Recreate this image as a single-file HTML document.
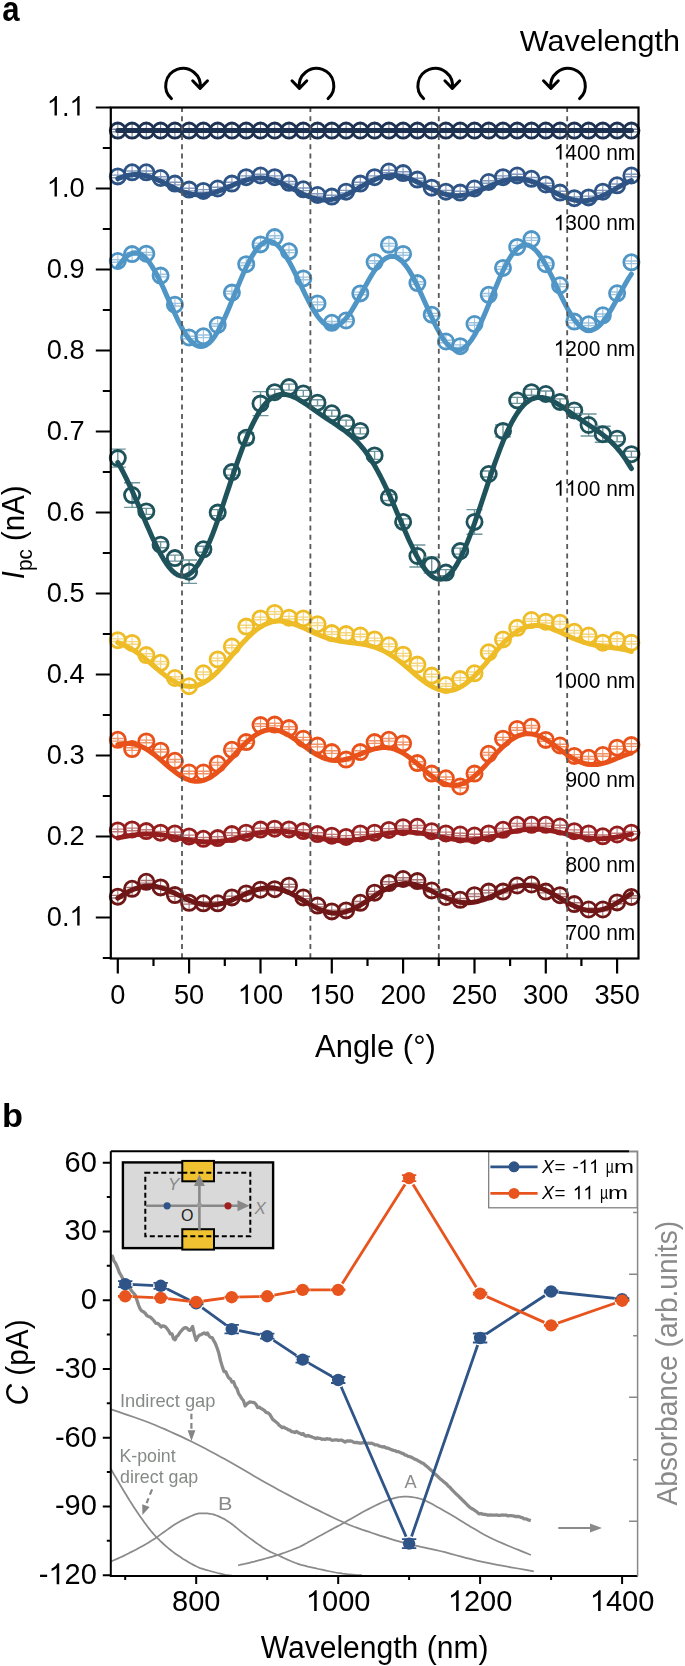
<!DOCTYPE html>
<html><head><meta charset="utf-8"><style>
html,body{margin:0;padding:0;background:#fff;}
body{width:685px;height:1666px;overflow:hidden;font-family:"Liberation Sans",sans-serif;}
svg{display:block;filter:blur(0.45px);}
</style></head><body>
<svg width="685" height="1666" viewBox="0 0 685 1666"><g><path d="M117.8 129.3V131.9M111.8 129.3H123.8M111.8 131.9H123.8" stroke="#71809a" stroke-width="1.4" fill="none"/><path d="M117.8 124.0V137.2" stroke="#71809a" stroke-width="1.1"/><circle cx="117.8" cy="130.6" r="7.6" fill="none" stroke="#1d3150" stroke-width="2.8"/><path d="M132.1 129.3V131.9M126.1 129.3H138.1M126.1 131.9H138.1" stroke="#71809a" stroke-width="1.4" fill="none"/><path d="M132.1 124.0V137.2" stroke="#71809a" stroke-width="1.1"/><circle cx="132.1" cy="130.6" r="7.6" fill="none" stroke="#1d3150" stroke-width="2.8"/><path d="M146.3 129.3V131.9M140.3 129.3H152.3M140.3 131.9H152.3" stroke="#71809a" stroke-width="1.4" fill="none"/><path d="M146.3 124.0V137.2" stroke="#71809a" stroke-width="1.1"/><circle cx="146.3" cy="130.6" r="7.6" fill="none" stroke="#1d3150" stroke-width="2.8"/><path d="M160.6 129.3V131.9M154.6 129.3H166.6M154.6 131.9H166.6" stroke="#71809a" stroke-width="1.4" fill="none"/><path d="M160.6 124.0V137.2" stroke="#71809a" stroke-width="1.1"/><circle cx="160.6" cy="130.6" r="7.6" fill="none" stroke="#1d3150" stroke-width="2.8"/><path d="M174.9 129.3V131.9M168.9 129.3H180.9M168.9 131.9H180.9" stroke="#71809a" stroke-width="1.4" fill="none"/><path d="M174.9 124.0V137.2" stroke="#71809a" stroke-width="1.1"/><circle cx="174.9" cy="130.6" r="7.6" fill="none" stroke="#1d3150" stroke-width="2.8"/><path d="M189.1 129.3V131.9M183.1 129.3H195.1M183.1 131.9H195.1" stroke="#71809a" stroke-width="1.4" fill="none"/><path d="M189.1 124.0V137.2" stroke="#71809a" stroke-width="1.1"/><circle cx="189.1" cy="130.6" r="7.6" fill="none" stroke="#1d3150" stroke-width="2.8"/><path d="M203.4 129.3V131.9M197.4 129.3H209.4M197.4 131.9H209.4" stroke="#71809a" stroke-width="1.4" fill="none"/><path d="M203.4 124.0V137.2" stroke="#71809a" stroke-width="1.1"/><circle cx="203.4" cy="130.6" r="7.6" fill="none" stroke="#1d3150" stroke-width="2.8"/><path d="M217.7 129.3V131.9M211.7 129.3H223.7M211.7 131.9H223.7" stroke="#71809a" stroke-width="1.4" fill="none"/><path d="M217.7 124.0V137.2" stroke="#71809a" stroke-width="1.1"/><circle cx="217.7" cy="130.6" r="7.6" fill="none" stroke="#1d3150" stroke-width="2.8"/><path d="M231.9 129.3V131.9M225.9 129.3H237.9M225.9 131.9H237.9" stroke="#71809a" stroke-width="1.4" fill="none"/><path d="M231.9 124.0V137.2" stroke="#71809a" stroke-width="1.1"/><circle cx="231.9" cy="130.6" r="7.6" fill="none" stroke="#1d3150" stroke-width="2.8"/><path d="M246.2 129.3V131.9M240.2 129.3H252.2M240.2 131.9H252.2" stroke="#71809a" stroke-width="1.4" fill="none"/><path d="M246.2 124.0V137.2" stroke="#71809a" stroke-width="1.1"/><circle cx="246.2" cy="130.6" r="7.6" fill="none" stroke="#1d3150" stroke-width="2.8"/><path d="M260.5 129.3V131.9M254.5 129.3H266.5M254.5 131.9H266.5" stroke="#71809a" stroke-width="1.4" fill="none"/><path d="M260.5 124.0V137.2" stroke="#71809a" stroke-width="1.1"/><circle cx="260.5" cy="130.6" r="7.6" fill="none" stroke="#1d3150" stroke-width="2.8"/><path d="M274.7 129.3V131.9M268.7 129.3H280.7M268.7 131.9H280.7" stroke="#71809a" stroke-width="1.4" fill="none"/><path d="M274.7 124.0V137.2" stroke="#71809a" stroke-width="1.1"/><circle cx="274.7" cy="130.6" r="7.6" fill="none" stroke="#1d3150" stroke-width="2.8"/><path d="M289.0 129.3V131.9M283.0 129.3H295.0M283.0 131.9H295.0" stroke="#71809a" stroke-width="1.4" fill="none"/><path d="M289.0 124.0V137.2" stroke="#71809a" stroke-width="1.1"/><circle cx="289.0" cy="130.6" r="7.6" fill="none" stroke="#1d3150" stroke-width="2.8"/><path d="M303.3 129.3V131.9M297.3 129.3H309.3M297.3 131.9H309.3" stroke="#71809a" stroke-width="1.4" fill="none"/><path d="M303.3 124.0V137.2" stroke="#71809a" stroke-width="1.1"/><circle cx="303.3" cy="130.6" r="7.6" fill="none" stroke="#1d3150" stroke-width="2.8"/><path d="M317.5 129.3V131.9M311.5 129.3H323.5M311.5 131.9H323.5" stroke="#71809a" stroke-width="1.4" fill="none"/><path d="M317.5 124.0V137.2" stroke="#71809a" stroke-width="1.1"/><circle cx="317.5" cy="130.6" r="7.6" fill="none" stroke="#1d3150" stroke-width="2.8"/><path d="M331.8 129.3V131.9M325.8 129.3H337.8M325.8 131.9H337.8" stroke="#71809a" stroke-width="1.4" fill="none"/><path d="M331.8 124.0V137.2" stroke="#71809a" stroke-width="1.1"/><circle cx="331.8" cy="130.6" r="7.6" fill="none" stroke="#1d3150" stroke-width="2.8"/><path d="M346.1 129.3V131.9M340.1 129.3H352.1M340.1 131.9H352.1" stroke="#71809a" stroke-width="1.4" fill="none"/><path d="M346.1 124.0V137.2" stroke="#71809a" stroke-width="1.1"/><circle cx="346.1" cy="130.6" r="7.6" fill="none" stroke="#1d3150" stroke-width="2.8"/><path d="M360.3 129.3V131.9M354.3 129.3H366.3M354.3 131.9H366.3" stroke="#71809a" stroke-width="1.4" fill="none"/><path d="M360.3 124.0V137.2" stroke="#71809a" stroke-width="1.1"/><circle cx="360.3" cy="130.6" r="7.6" fill="none" stroke="#1d3150" stroke-width="2.8"/><path d="M374.6 129.3V131.9M368.6 129.3H380.6M368.6 131.9H380.6" stroke="#71809a" stroke-width="1.4" fill="none"/><path d="M374.6 124.0V137.2" stroke="#71809a" stroke-width="1.1"/><circle cx="374.6" cy="130.6" r="7.6" fill="none" stroke="#1d3150" stroke-width="2.8"/><path d="M388.9 129.3V131.9M382.9 129.3H394.9M382.9 131.9H394.9" stroke="#71809a" stroke-width="1.4" fill="none"/><path d="M388.9 124.0V137.2" stroke="#71809a" stroke-width="1.1"/><circle cx="388.9" cy="130.6" r="7.6" fill="none" stroke="#1d3150" stroke-width="2.8"/><path d="M403.1 129.3V131.9M397.1 129.3H409.1M397.1 131.9H409.1" stroke="#71809a" stroke-width="1.4" fill="none"/><path d="M403.1 124.0V137.2" stroke="#71809a" stroke-width="1.1"/><circle cx="403.1" cy="130.6" r="7.6" fill="none" stroke="#1d3150" stroke-width="2.8"/><path d="M417.4 129.3V131.9M411.4 129.3H423.4M411.4 131.9H423.4" stroke="#71809a" stroke-width="1.4" fill="none"/><path d="M417.4 124.0V137.2" stroke="#71809a" stroke-width="1.1"/><circle cx="417.4" cy="130.6" r="7.6" fill="none" stroke="#1d3150" stroke-width="2.8"/><path d="M431.7 129.3V131.9M425.7 129.3H437.7M425.7 131.9H437.7" stroke="#71809a" stroke-width="1.4" fill="none"/><path d="M431.7 124.0V137.2" stroke="#71809a" stroke-width="1.1"/><circle cx="431.7" cy="130.6" r="7.6" fill="none" stroke="#1d3150" stroke-width="2.8"/><path d="M445.9 129.3V131.9M439.9 129.3H451.9M439.9 131.9H451.9" stroke="#71809a" stroke-width="1.4" fill="none"/><path d="M445.9 124.0V137.2" stroke="#71809a" stroke-width="1.1"/><circle cx="445.9" cy="130.6" r="7.6" fill="none" stroke="#1d3150" stroke-width="2.8"/><path d="M460.2 129.3V131.9M454.2 129.3H466.2M454.2 131.9H466.2" stroke="#71809a" stroke-width="1.4" fill="none"/><path d="M460.2 124.0V137.2" stroke="#71809a" stroke-width="1.1"/><circle cx="460.2" cy="130.6" r="7.6" fill="none" stroke="#1d3150" stroke-width="2.8"/><path d="M474.5 129.3V131.9M468.5 129.3H480.5M468.5 131.9H480.5" stroke="#71809a" stroke-width="1.4" fill="none"/><path d="M474.5 124.0V137.2" stroke="#71809a" stroke-width="1.1"/><circle cx="474.5" cy="130.6" r="7.6" fill="none" stroke="#1d3150" stroke-width="2.8"/><path d="M488.7 129.3V131.9M482.7 129.3H494.7M482.7 131.9H494.7" stroke="#71809a" stroke-width="1.4" fill="none"/><path d="M488.7 124.0V137.2" stroke="#71809a" stroke-width="1.1"/><circle cx="488.7" cy="130.6" r="7.6" fill="none" stroke="#1d3150" stroke-width="2.8"/><path d="M503.0 129.3V131.9M497.0 129.3H509.0M497.0 131.9H509.0" stroke="#71809a" stroke-width="1.4" fill="none"/><path d="M503.0 124.0V137.2" stroke="#71809a" stroke-width="1.1"/><circle cx="503.0" cy="130.6" r="7.6" fill="none" stroke="#1d3150" stroke-width="2.8"/><path d="M517.2 129.3V131.9M511.2 129.3H523.2M511.2 131.9H523.2" stroke="#71809a" stroke-width="1.4" fill="none"/><path d="M517.2 124.0V137.2" stroke="#71809a" stroke-width="1.1"/><circle cx="517.2" cy="130.6" r="7.6" fill="none" stroke="#1d3150" stroke-width="2.8"/><path d="M531.5 129.3V131.9M525.5 129.3H537.5M525.5 131.9H537.5" stroke="#71809a" stroke-width="1.4" fill="none"/><path d="M531.5 124.0V137.2" stroke="#71809a" stroke-width="1.1"/><circle cx="531.5" cy="130.6" r="7.6" fill="none" stroke="#1d3150" stroke-width="2.8"/><path d="M545.8 129.3V131.9M539.8 129.3H551.8M539.8 131.9H551.8" stroke="#71809a" stroke-width="1.4" fill="none"/><path d="M545.8 124.0V137.2" stroke="#71809a" stroke-width="1.1"/><circle cx="545.8" cy="130.6" r="7.6" fill="none" stroke="#1d3150" stroke-width="2.8"/><path d="M560.0 129.3V131.9M554.0 129.3H566.0M554.0 131.9H566.0" stroke="#71809a" stroke-width="1.4" fill="none"/><path d="M560.0 124.0V137.2" stroke="#71809a" stroke-width="1.1"/><circle cx="560.0" cy="130.6" r="7.6" fill="none" stroke="#1d3150" stroke-width="2.8"/><path d="M574.3 129.3V131.9M568.3 129.3H580.3M568.3 131.9H580.3" stroke="#71809a" stroke-width="1.4" fill="none"/><path d="M574.3 124.0V137.2" stroke="#71809a" stroke-width="1.1"/><circle cx="574.3" cy="130.6" r="7.6" fill="none" stroke="#1d3150" stroke-width="2.8"/><path d="M588.6 129.3V131.9M582.6 129.3H594.6M582.6 131.9H594.6" stroke="#71809a" stroke-width="1.4" fill="none"/><path d="M588.6 124.0V137.2" stroke="#71809a" stroke-width="1.1"/><circle cx="588.6" cy="130.6" r="7.6" fill="none" stroke="#1d3150" stroke-width="2.8"/><path d="M602.8 129.3V131.9M596.8 129.3H608.8M596.8 131.9H608.8" stroke="#71809a" stroke-width="1.4" fill="none"/><path d="M602.8 124.0V137.2" stroke="#71809a" stroke-width="1.1"/><circle cx="602.8" cy="130.6" r="7.6" fill="none" stroke="#1d3150" stroke-width="2.8"/><path d="M617.1 129.3V131.9M611.1 129.3H623.1M611.1 131.9H623.1" stroke="#71809a" stroke-width="1.4" fill="none"/><path d="M617.1 124.0V137.2" stroke="#71809a" stroke-width="1.1"/><circle cx="617.1" cy="130.6" r="7.6" fill="none" stroke="#1d3150" stroke-width="2.8"/><path d="M631.4 129.3V131.9M625.4 129.3H637.4M625.4 131.9H637.4" stroke="#71809a" stroke-width="1.4" fill="none"/><path d="M631.4 124.0V137.2" stroke="#71809a" stroke-width="1.1"/><circle cx="631.4" cy="130.6" r="7.6" fill="none" stroke="#1d3150" stroke-width="2.8"/></g>
<polyline points="117.8,130.6 120.7,130.6 123.5,130.6 126.4,130.6 129.2,130.6 132.1,130.6 134.9,130.6 137.8,130.6 140.6,130.6 143.5,130.6 146.3,130.6 149.2,130.6 152.0,130.6 154.9,130.6 157.7,130.6 160.6,130.6 163.5,130.6 166.3,130.6 169.2,130.6 172.0,130.6 174.9,130.6 177.7,130.6 180.6,130.6 183.4,130.6 186.3,130.6 189.1,130.6 192.0,130.6 194.8,130.6 197.7,130.6 200.5,130.6 203.4,130.6 206.2,130.6 209.1,130.6 212.0,130.6 214.8,130.6 217.7,130.6 220.5,130.6 223.4,130.6 226.2,130.6 229.1,130.6 231.9,130.6 234.8,130.6 237.6,130.6 240.5,130.6 243.3,130.6 246.2,130.6 249.0,130.6 251.9,130.6 254.8,130.6 257.6,130.6 260.5,130.6 263.3,130.6 266.2,130.6 269.0,130.6 271.9,130.6 274.7,130.6 277.6,130.6 280.4,130.6 283.3,130.6 286.1,130.6 289.0,130.6 291.8,130.6 294.7,130.6 297.6,130.6 300.4,130.6 303.3,130.6 306.1,130.6 309.0,130.6 311.8,130.6 314.7,130.6 317.5,130.6 320.4,130.6 323.2,130.6 326.1,130.6 328.9,130.6 331.8,130.6 334.6,130.6 337.5,130.6 340.3,130.6 343.2,130.6 346.1,130.6 348.9,130.6 351.8,130.6 354.6,130.6 357.5,130.6 360.3,130.6 363.2,130.6 366.0,130.6 368.9,130.6 371.7,130.6 374.6,130.6 377.4,130.6 380.3,130.6 383.1,130.6 386.0,130.6 388.9,130.6 391.7,130.6 394.6,130.6 397.4,130.6 400.3,130.6 403.1,130.6 406.0,130.6 408.8,130.6 411.7,130.6 414.5,130.6 417.4,130.6 420.2,130.6 423.1,130.6 425.9,130.6 428.8,130.6 431.7,130.6 434.5,130.6 437.4,130.6 440.2,130.6 443.1,130.6 445.9,130.6 448.8,130.6 451.6,130.6 454.5,130.6 457.3,130.6 460.2,130.6 463.0,130.6 465.9,130.6 468.7,130.6 471.6,130.6 474.5,130.6 477.3,130.6 480.2,130.6 483.0,130.6 485.9,130.6 488.7,130.6 491.6,130.6 494.4,130.6 497.3,130.6 500.1,130.6 503.0,130.6 505.8,130.6 508.7,130.6 511.5,130.6 514.4,130.6 517.2,130.6 520.1,130.6 523.0,130.6 525.8,130.6 528.7,130.6 531.5,130.6 534.4,130.6 537.2,130.6 540.1,130.6 542.9,130.6 545.8,130.6 548.6,130.6 551.5,130.6 554.3,130.6 557.2,130.6 560.0,130.6 562.9,130.6 565.8,130.6 568.6,130.6 571.5,130.6 574.3,130.6 577.2,130.6 580.0,130.6 582.9,130.6 585.7,130.6 588.6,130.6 591.4,130.6 594.3,130.6 597.1,130.6 600.0,130.6 602.8,130.6 605.7,130.6 608.6,130.6 611.4,130.6 614.3,130.6 617.1,130.6 620.0,130.6 622.8,130.6 625.7,130.6 628.5,130.6 631.4,130.6" fill="none" stroke="#1d3150" stroke-width="5" stroke-linejoin="round" stroke-linecap="round"/>
<g><path d="M117.8 175.1V177.7M111.8 175.1H123.8M111.8 177.7H123.8" stroke="#8098bb" stroke-width="1.4" fill="none"/><path d="M117.8 169.8V183.0" stroke="#8098bb" stroke-width="1.1"/><circle cx="117.8" cy="176.4" r="7.6" fill="none" stroke="#2e5486" stroke-width="2.8"/><path d="M132.1 171.0V173.6M126.1 171.0H138.1M126.1 173.6H138.1" stroke="#8098bb" stroke-width="1.4" fill="none"/><path d="M132.1 165.7V178.9" stroke="#8098bb" stroke-width="1.1"/><circle cx="132.1" cy="172.3" r="7.6" fill="none" stroke="#2e5486" stroke-width="2.8"/><path d="M146.3 171.0V173.6M140.3 171.0H152.3M140.3 173.6H152.3" stroke="#8098bb" stroke-width="1.4" fill="none"/><path d="M146.3 165.7V178.9" stroke="#8098bb" stroke-width="1.1"/><circle cx="146.3" cy="172.3" r="7.6" fill="none" stroke="#2e5486" stroke-width="2.8"/><path d="M160.6 176.7V179.3M154.6 176.7H166.6M154.6 179.3H166.6" stroke="#8098bb" stroke-width="1.4" fill="none"/><path d="M160.6 171.4V184.6" stroke="#8098bb" stroke-width="1.1"/><circle cx="160.6" cy="178.0" r="7.6" fill="none" stroke="#2e5486" stroke-width="2.8"/><path d="M174.9 182.3V184.9M168.9 182.3H180.9M168.9 184.9H180.9" stroke="#8098bb" stroke-width="1.4" fill="none"/><path d="M174.9 177.0V190.2" stroke="#8098bb" stroke-width="1.1"/><circle cx="174.9" cy="183.6" r="7.6" fill="none" stroke="#2e5486" stroke-width="2.8"/><path d="M189.1 188.3V190.9M183.1 188.3H195.1M183.1 190.9H195.1" stroke="#8098bb" stroke-width="1.4" fill="none"/><path d="M189.1 183.0V196.2" stroke="#8098bb" stroke-width="1.1"/><circle cx="189.1" cy="189.6" r="7.6" fill="none" stroke="#2e5486" stroke-width="2.8"/><path d="M203.4 189.6V192.2M197.4 189.6H209.4M197.4 192.2H209.4" stroke="#8098bb" stroke-width="1.4" fill="none"/><path d="M203.4 184.3V197.5" stroke="#8098bb" stroke-width="1.1"/><circle cx="203.4" cy="190.9" r="7.6" fill="none" stroke="#2e5486" stroke-width="2.8"/><path d="M217.7 187.2V189.8M211.7 187.2H223.7M211.7 189.8H223.7" stroke="#8098bb" stroke-width="1.4" fill="none"/><path d="M217.7 181.9V195.1" stroke="#8098bb" stroke-width="1.1"/><circle cx="217.7" cy="188.5" r="7.6" fill="none" stroke="#2e5486" stroke-width="2.8"/><path d="M231.9 182.3V184.9M225.9 182.3H237.9M225.9 184.9H237.9" stroke="#8098bb" stroke-width="1.4" fill="none"/><path d="M231.9 177.0V190.2" stroke="#8098bb" stroke-width="1.1"/><circle cx="231.9" cy="183.6" r="7.6" fill="none" stroke="#2e5486" stroke-width="2.8"/><path d="M246.2 175.9V178.5M240.2 175.9H252.2M240.2 178.5H252.2" stroke="#8098bb" stroke-width="1.4" fill="none"/><path d="M246.2 170.6V183.8" stroke="#8098bb" stroke-width="1.1"/><circle cx="246.2" cy="177.2" r="7.6" fill="none" stroke="#2e5486" stroke-width="2.8"/><path d="M260.5 174.2V176.8M254.5 174.2H266.5M254.5 176.8H266.5" stroke="#8098bb" stroke-width="1.4" fill="none"/><path d="M260.5 168.9V182.1" stroke="#8098bb" stroke-width="1.1"/><circle cx="260.5" cy="175.5" r="7.6" fill="none" stroke="#2e5486" stroke-width="2.8"/><path d="M274.7 175.9V178.5M268.7 175.9H280.7M268.7 178.5H280.7" stroke="#8098bb" stroke-width="1.4" fill="none"/><path d="M274.7 170.6V183.8" stroke="#8098bb" stroke-width="1.1"/><circle cx="274.7" cy="177.2" r="7.6" fill="none" stroke="#2e5486" stroke-width="2.8"/><path d="M289.0 181.5V184.1M283.0 181.5H295.0M283.0 184.1H295.0" stroke="#8098bb" stroke-width="1.4" fill="none"/><path d="M289.0 176.2V189.4" stroke="#8098bb" stroke-width="1.1"/><circle cx="289.0" cy="182.8" r="7.6" fill="none" stroke="#2e5486" stroke-width="2.8"/><path d="M303.3 188.0V190.6M297.3 188.0H309.3M297.3 190.6H309.3" stroke="#8098bb" stroke-width="1.4" fill="none"/><path d="M303.3 182.7V195.9" stroke="#8098bb" stroke-width="1.1"/><circle cx="303.3" cy="189.3" r="7.6" fill="none" stroke="#2e5486" stroke-width="2.8"/><path d="M317.5 193.7V196.3M311.5 193.7H323.5M311.5 196.3H323.5" stroke="#8098bb" stroke-width="1.4" fill="none"/><path d="M317.5 188.4V201.6" stroke="#8098bb" stroke-width="1.1"/><circle cx="317.5" cy="195.0" r="7.6" fill="none" stroke="#2e5486" stroke-width="2.8"/><path d="M331.8 195.3V197.9M325.8 195.3H337.8M325.8 197.9H337.8" stroke="#8098bb" stroke-width="1.4" fill="none"/><path d="M331.8 190.0V203.2" stroke="#8098bb" stroke-width="1.1"/><circle cx="331.8" cy="196.6" r="7.6" fill="none" stroke="#2e5486" stroke-width="2.8"/><path d="M346.1 190.4V193.0M340.1 190.4H352.1M340.1 193.0H352.1" stroke="#8098bb" stroke-width="1.4" fill="none"/><path d="M346.1 185.1V198.3" stroke="#8098bb" stroke-width="1.1"/><circle cx="346.1" cy="191.7" r="7.6" fill="none" stroke="#2e5486" stroke-width="2.8"/><path d="M360.3 182.3V184.9M354.3 182.3H366.3M354.3 184.9H366.3" stroke="#8098bb" stroke-width="1.4" fill="none"/><path d="M360.3 177.0V190.2" stroke="#8098bb" stroke-width="1.1"/><circle cx="360.3" cy="183.6" r="7.6" fill="none" stroke="#2e5486" stroke-width="2.8"/><path d="M374.6 175.9V178.5M368.6 175.9H380.6M368.6 178.5H380.6" stroke="#8098bb" stroke-width="1.4" fill="none"/><path d="M374.6 170.6V183.8" stroke="#8098bb" stroke-width="1.1"/><circle cx="374.6" cy="177.2" r="7.6" fill="none" stroke="#2e5486" stroke-width="2.8"/><path d="M388.9 170.2V172.8M382.9 170.2H394.9M382.9 172.8H394.9" stroke="#8098bb" stroke-width="1.4" fill="none"/><path d="M388.9 164.9V178.1" stroke="#8098bb" stroke-width="1.1"/><circle cx="388.9" cy="171.5" r="7.6" fill="none" stroke="#2e5486" stroke-width="2.8"/><path d="M403.1 171.8V174.4M397.1 171.8H409.1M397.1 174.4H409.1" stroke="#8098bb" stroke-width="1.4" fill="none"/><path d="M403.1 166.5V179.7" stroke="#8098bb" stroke-width="1.1"/><circle cx="403.1" cy="173.1" r="7.6" fill="none" stroke="#2e5486" stroke-width="2.8"/><path d="M417.4 178.3V180.9M411.4 178.3H423.4M411.4 180.9H423.4" stroke="#8098bb" stroke-width="1.4" fill="none"/><path d="M417.4 173.0V186.2" stroke="#8098bb" stroke-width="1.1"/><circle cx="417.4" cy="179.6" r="7.6" fill="none" stroke="#2e5486" stroke-width="2.8"/><path d="M431.7 186.4V189.0M425.7 186.4H437.7M425.7 189.0H437.7" stroke="#8098bb" stroke-width="1.4" fill="none"/><path d="M431.7 181.1V194.3" stroke="#8098bb" stroke-width="1.1"/><circle cx="431.7" cy="187.7" r="7.6" fill="none" stroke="#2e5486" stroke-width="2.8"/><path d="M445.9 190.4V193.0M439.9 190.4H451.9M439.9 193.0H451.9" stroke="#8098bb" stroke-width="1.4" fill="none"/><path d="M445.9 185.1V198.3" stroke="#8098bb" stroke-width="1.1"/><circle cx="445.9" cy="191.7" r="7.6" fill="none" stroke="#2e5486" stroke-width="2.8"/><path d="M460.2 191.3V193.9M454.2 191.3H466.2M454.2 193.9H466.2" stroke="#8098bb" stroke-width="1.4" fill="none"/><path d="M460.2 186.0V199.2" stroke="#8098bb" stroke-width="1.1"/><circle cx="460.2" cy="192.6" r="7.6" fill="none" stroke="#2e5486" stroke-width="2.8"/><path d="M474.5 187.2V189.8M468.5 187.2H480.5M468.5 189.8H480.5" stroke="#8098bb" stroke-width="1.4" fill="none"/><path d="M474.5 181.9V195.1" stroke="#8098bb" stroke-width="1.1"/><circle cx="474.5" cy="188.5" r="7.6" fill="none" stroke="#2e5486" stroke-width="2.8"/><path d="M488.7 180.7V183.3M482.7 180.7H494.7M482.7 183.3H494.7" stroke="#8098bb" stroke-width="1.4" fill="none"/><path d="M488.7 175.4V188.6" stroke="#8098bb" stroke-width="1.1"/><circle cx="488.7" cy="182.0" r="7.6" fill="none" stroke="#2e5486" stroke-width="2.8"/><path d="M503.0 175.9V178.5M497.0 175.9H509.0M497.0 178.5H509.0" stroke="#8098bb" stroke-width="1.4" fill="none"/><path d="M503.0 170.6V183.8" stroke="#8098bb" stroke-width="1.1"/><circle cx="503.0" cy="177.2" r="7.6" fill="none" stroke="#2e5486" stroke-width="2.8"/><path d="M517.2 174.2V176.8M511.2 174.2H523.2M511.2 176.8H523.2" stroke="#8098bb" stroke-width="1.4" fill="none"/><path d="M517.2 168.9V182.1" stroke="#8098bb" stroke-width="1.1"/><circle cx="517.2" cy="175.5" r="7.6" fill="none" stroke="#2e5486" stroke-width="2.8"/><path d="M531.5 177.5V180.1M525.5 177.5H537.5M525.5 180.1H537.5" stroke="#8098bb" stroke-width="1.4" fill="none"/><path d="M531.5 172.2V185.4" stroke="#8098bb" stroke-width="1.1"/><circle cx="531.5" cy="178.8" r="7.6" fill="none" stroke="#2e5486" stroke-width="2.8"/><path d="M545.8 183.2V185.8M539.8 183.2H551.8M539.8 185.8H551.8" stroke="#8098bb" stroke-width="1.4" fill="none"/><path d="M545.8 177.9V191.1" stroke="#8098bb" stroke-width="1.1"/><circle cx="545.8" cy="184.5" r="7.6" fill="none" stroke="#2e5486" stroke-width="2.8"/><path d="M560.0 191.3V193.9M554.0 191.3H566.0M554.0 193.9H566.0" stroke="#8098bb" stroke-width="1.4" fill="none"/><path d="M560.0 186.0V199.2" stroke="#8098bb" stroke-width="1.1"/><circle cx="560.0" cy="192.6" r="7.6" fill="none" stroke="#2e5486" stroke-width="2.8"/><path d="M574.3 196.9V199.5M568.3 196.9H580.3M568.3 199.5H580.3" stroke="#8098bb" stroke-width="1.4" fill="none"/><path d="M574.3 191.6V204.8" stroke="#8098bb" stroke-width="1.1"/><circle cx="574.3" cy="198.2" r="7.6" fill="none" stroke="#2e5486" stroke-width="2.8"/><path d="M588.6 196.1V198.7M582.6 196.1H594.6M582.6 198.7H594.6" stroke="#8098bb" stroke-width="1.4" fill="none"/><path d="M588.6 190.8V204.0" stroke="#8098bb" stroke-width="1.1"/><circle cx="588.6" cy="197.4" r="7.6" fill="none" stroke="#2e5486" stroke-width="2.8"/><path d="M602.8 190.4V193.0M596.8 190.4H608.8M596.8 193.0H608.8" stroke="#8098bb" stroke-width="1.4" fill="none"/><path d="M602.8 185.1V198.3" stroke="#8098bb" stroke-width="1.1"/><circle cx="602.8" cy="191.7" r="7.6" fill="none" stroke="#2e5486" stroke-width="2.8"/><path d="M617.1 184.0V186.6M611.1 184.0H623.1M611.1 186.6H623.1" stroke="#8098bb" stroke-width="1.4" fill="none"/><path d="M617.1 178.7V191.9" stroke="#8098bb" stroke-width="1.1"/><circle cx="617.1" cy="185.3" r="7.6" fill="none" stroke="#2e5486" stroke-width="2.8"/><path d="M631.4 174.2V176.8M625.4 174.2H637.4M625.4 176.8H637.4" stroke="#8098bb" stroke-width="1.4" fill="none"/><path d="M631.4 168.9V182.1" stroke="#8098bb" stroke-width="1.1"/><circle cx="631.4" cy="175.5" r="7.6" fill="none" stroke="#2e5486" stroke-width="2.8"/></g>
<polyline points="117.8,178.7 120.7,177.6 123.5,176.6 126.4,175.8 129.2,175.2 132.1,174.8 134.9,174.6 137.8,174.6 140.6,174.8 143.5,175.3 146.3,175.9 149.2,176.7 152.0,177.6 154.9,178.7 157.7,179.9 160.6,181.2 163.5,182.6 166.3,184.0 169.2,185.4 172.0,186.8 174.9,188.2 177.7,189.5 180.6,190.7 183.4,191.8 186.3,192.7 189.1,193.5 192.0,194.1 194.8,194.5 197.7,194.8 200.5,194.9 203.4,194.7 206.2,194.4 209.1,193.9 212.0,193.2 214.8,192.4 217.7,191.5 220.5,190.4 223.4,189.3 226.2,188.1 229.1,186.8 231.9,185.6 234.8,184.3 237.6,183.1 240.5,182.0 243.3,181.0 246.2,180.1 249.0,179.3 251.9,178.7 254.8,178.3 257.6,178.0 260.5,177.9 263.3,178.1 266.2,178.4 269.0,178.9 271.9,179.6 274.7,180.5 277.6,181.5 280.4,182.7 283.3,184.0 286.1,185.4 289.0,186.8 291.8,188.3 294.7,189.8 297.6,191.3 300.4,192.8 303.3,194.2 306.1,195.4 309.0,196.6 311.8,197.6 314.7,198.5 317.5,199.2 320.4,199.6 323.2,199.9 326.1,200.0 328.9,199.8 331.8,199.4 334.6,198.9 337.5,198.1 340.3,197.1 343.2,196.0 346.1,194.8 348.9,193.4 351.8,191.9 354.6,190.3 357.5,188.7 360.3,187.0 363.2,185.4 366.0,183.8 368.9,182.3 371.7,180.9 374.6,179.6 377.4,178.5 380.3,177.5 383.1,176.7 386.0,176.1 388.9,175.7 391.7,175.5 394.6,175.5 397.4,175.7 400.3,176.2 403.1,176.8 406.0,177.6 408.8,178.5 411.7,179.6 414.5,180.8 417.4,182.1 420.2,183.5 423.1,184.9 425.9,186.3 428.8,187.7 431.7,189.1 434.5,190.4 437.4,191.6 440.2,192.7 443.1,193.6 445.9,194.4 448.8,195.0 451.6,195.4 454.5,195.7 457.3,195.8 460.2,195.6 463.0,195.3 465.9,194.8 468.7,194.1 471.6,193.3 474.5,192.4 477.3,191.3 480.2,190.2 483.0,189.0 485.9,187.7 488.7,186.5 491.6,185.2 494.4,184.0 497.3,182.9 500.1,181.9 503.0,181.0 505.8,180.2 508.7,179.6 511.5,179.2 514.4,178.9 517.2,178.8 520.1,179.0 523.0,179.3 525.8,179.8 528.7,180.5 531.5,181.4 534.4,182.4 537.2,183.6 540.1,184.9 542.9,186.3 545.8,187.7 548.6,189.2 551.5,190.7 554.3,192.2 557.2,193.7 560.0,195.1 562.9,196.3 565.8,197.5 568.6,198.5 571.5,199.4 574.3,200.0 577.2,200.5 580.0,200.8 582.9,200.9 585.7,200.7 588.6,200.3 591.4,199.8 594.3,199.0 597.1,198.0 600.0,196.9 602.8,195.6 605.7,194.3 608.6,192.8 611.4,191.2 614.3,189.6 617.1,187.9 620.0,186.3 622.8,184.7 625.7,183.2 628.5,181.8 631.4,180.5" fill="none" stroke="#2e5486" stroke-width="5" stroke-linejoin="round" stroke-linecap="round"/>
<g><path d="M117.8 259.7V262.3M111.8 259.7H123.8M111.8 262.3H123.8" stroke="#9dc3df" stroke-width="1.4" fill="none"/><path d="M117.8 254.4V267.6" stroke="#9dc3df" stroke-width="1.1"/><circle cx="117.8" cy="261.0" r="7.6" fill="none" stroke="#4f95c5" stroke-width="2.8"/><path d="M132.1 252.8V255.4M126.1 252.8H138.1M126.1 255.4H138.1" stroke="#9dc3df" stroke-width="1.4" fill="none"/><path d="M132.1 247.5V260.7" stroke="#9dc3df" stroke-width="1.1"/><circle cx="132.1" cy="254.1" r="7.6" fill="none" stroke="#4f95c5" stroke-width="2.8"/><path d="M146.3 252.4V255.0M140.3 252.4H152.3M140.3 255.0H152.3" stroke="#9dc3df" stroke-width="1.4" fill="none"/><path d="M146.3 247.1V260.3" stroke="#9dc3df" stroke-width="1.1"/><circle cx="146.3" cy="253.7" r="7.6" fill="none" stroke="#4f95c5" stroke-width="2.8"/><path d="M160.6 274.3V276.9M154.6 274.3H166.6M154.6 276.9H166.6" stroke="#9dc3df" stroke-width="1.4" fill="none"/><path d="M160.6 269.0V282.2" stroke="#9dc3df" stroke-width="1.1"/><circle cx="160.6" cy="275.6" r="7.6" fill="none" stroke="#4f95c5" stroke-width="2.8"/><path d="M174.9 303.4V306.0M168.9 303.4H180.9M168.9 306.0H180.9" stroke="#9dc3df" stroke-width="1.4" fill="none"/><path d="M174.9 298.1V311.3" stroke="#9dc3df" stroke-width="1.1"/><circle cx="174.9" cy="304.7" r="7.6" fill="none" stroke="#4f95c5" stroke-width="2.8"/><path d="M189.1 336.2V338.8M183.1 336.2H195.1M183.1 338.8H195.1" stroke="#9dc3df" stroke-width="1.4" fill="none"/><path d="M189.1 330.9V344.1" stroke="#9dc3df" stroke-width="1.1"/><circle cx="189.1" cy="337.5" r="7.6" fill="none" stroke="#4f95c5" stroke-width="2.8"/><path d="M203.4 335.0V337.6M197.4 335.0H209.4M197.4 337.6H209.4" stroke="#9dc3df" stroke-width="1.4" fill="none"/><path d="M203.4 329.7V342.9" stroke="#9dc3df" stroke-width="1.1"/><circle cx="203.4" cy="336.3" r="7.6" fill="none" stroke="#4f95c5" stroke-width="2.8"/><path d="M217.7 323.7V326.3M211.7 323.7H223.7M211.7 326.3H223.7" stroke="#9dc3df" stroke-width="1.4" fill="none"/><path d="M217.7 318.4V331.6" stroke="#9dc3df" stroke-width="1.1"/><circle cx="217.7" cy="325.0" r="7.6" fill="none" stroke="#4f95c5" stroke-width="2.8"/><path d="M231.9 291.3V293.9M225.9 291.3H237.9M225.9 293.9H237.9" stroke="#9dc3df" stroke-width="1.4" fill="none"/><path d="M231.9 286.0V299.2" stroke="#9dc3df" stroke-width="1.1"/><circle cx="231.9" cy="292.6" r="7.6" fill="none" stroke="#4f95c5" stroke-width="2.8"/><path d="M246.2 262.9V265.5M240.2 262.9H252.2M240.2 265.5H252.2" stroke="#9dc3df" stroke-width="1.4" fill="none"/><path d="M246.2 257.6V270.8" stroke="#9dc3df" stroke-width="1.1"/><circle cx="246.2" cy="264.2" r="7.6" fill="none" stroke="#4f95c5" stroke-width="2.8"/><path d="M260.5 243.1V245.7M254.5 243.1H266.5M254.5 245.7H266.5" stroke="#9dc3df" stroke-width="1.4" fill="none"/><path d="M260.5 237.8V251.0" stroke="#9dc3df" stroke-width="1.1"/><circle cx="260.5" cy="244.4" r="7.6" fill="none" stroke="#4f95c5" stroke-width="2.8"/><path d="M274.7 235.8V238.4M268.7 235.8H280.7M268.7 238.4H280.7" stroke="#9dc3df" stroke-width="1.4" fill="none"/><path d="M274.7 230.5V243.7" stroke="#9dc3df" stroke-width="1.1"/><circle cx="274.7" cy="237.1" r="7.6" fill="none" stroke="#4f95c5" stroke-width="2.8"/><path d="M289.0 250.0V252.6M283.0 250.0H295.0M283.0 252.6H295.0" stroke="#9dc3df" stroke-width="1.4" fill="none"/><path d="M289.0 244.7V257.9" stroke="#9dc3df" stroke-width="1.1"/><circle cx="289.0" cy="251.3" r="7.6" fill="none" stroke="#4f95c5" stroke-width="2.8"/><path d="M303.3 277.1V279.7M297.3 277.1H309.3M297.3 279.7H309.3" stroke="#9dc3df" stroke-width="1.4" fill="none"/><path d="M303.3 271.8V285.0" stroke="#9dc3df" stroke-width="1.1"/><circle cx="303.3" cy="278.4" r="7.6" fill="none" stroke="#4f95c5" stroke-width="2.8"/><path d="M317.5 302.1V304.7M311.5 302.1H323.5M311.5 304.7H323.5" stroke="#9dc3df" stroke-width="1.4" fill="none"/><path d="M317.5 296.8V310.0" stroke="#9dc3df" stroke-width="1.1"/><circle cx="317.5" cy="303.4" r="7.6" fill="none" stroke="#4f95c5" stroke-width="2.8"/><path d="M331.8 321.5V324.1M325.8 321.5H337.8M325.8 324.1H337.8" stroke="#9dc3df" stroke-width="1.4" fill="none"/><path d="M331.8 316.2V329.4" stroke="#9dc3df" stroke-width="1.1"/><circle cx="331.8" cy="322.8" r="7.6" fill="none" stroke="#4f95c5" stroke-width="2.8"/><path d="M346.1 319.2V321.8M340.1 319.2H352.1M340.1 321.8H352.1" stroke="#9dc3df" stroke-width="1.4" fill="none"/><path d="M346.1 313.9V327.1" stroke="#9dc3df" stroke-width="1.1"/><circle cx="346.1" cy="320.5" r="7.6" fill="none" stroke="#4f95c5" stroke-width="2.8"/><path d="M360.3 292.1V294.7M354.3 292.1H366.3M354.3 294.7H366.3" stroke="#9dc3df" stroke-width="1.4" fill="none"/><path d="M360.3 286.8V300.0" stroke="#9dc3df" stroke-width="1.1"/><circle cx="360.3" cy="293.4" r="7.6" fill="none" stroke="#4f95c5" stroke-width="2.8"/><path d="M374.6 260.8V263.4M368.6 260.8H380.6M368.6 263.4H380.6" stroke="#9dc3df" stroke-width="1.4" fill="none"/><path d="M374.6 255.5V268.7" stroke="#9dc3df" stroke-width="1.1"/><circle cx="374.6" cy="262.1" r="7.6" fill="none" stroke="#4f95c5" stroke-width="2.8"/><path d="M388.9 243.5V246.1M382.9 243.5H394.9M382.9 246.1H394.9" stroke="#9dc3df" stroke-width="1.4" fill="none"/><path d="M388.9 238.2V251.4" stroke="#9dc3df" stroke-width="1.1"/><circle cx="388.9" cy="244.8" r="7.6" fill="none" stroke="#4f95c5" stroke-width="2.8"/><path d="M403.1 252.6V255.2M397.1 252.6H409.1M397.1 255.2H409.1" stroke="#9dc3df" stroke-width="1.4" fill="none"/><path d="M403.1 247.3V260.5" stroke="#9dc3df" stroke-width="1.1"/><circle cx="403.1" cy="253.9" r="7.6" fill="none" stroke="#4f95c5" stroke-width="2.8"/><path d="M417.4 281.8V284.4M411.4 281.8H423.4M411.4 284.4H423.4" stroke="#9dc3df" stroke-width="1.4" fill="none"/><path d="M417.4 276.5V289.7" stroke="#9dc3df" stroke-width="1.1"/><circle cx="417.4" cy="283.1" r="7.6" fill="none" stroke="#4f95c5" stroke-width="2.8"/><path d="M431.7 313.4V316.0M425.7 313.4H437.7M425.7 316.0H437.7" stroke="#9dc3df" stroke-width="1.4" fill="none"/><path d="M431.7 308.1V321.3" stroke="#9dc3df" stroke-width="1.1"/><circle cx="431.7" cy="314.7" r="7.6" fill="none" stroke="#4f95c5" stroke-width="2.8"/><path d="M445.9 340.2V342.8M439.9 340.2H451.9M439.9 342.8H451.9" stroke="#9dc3df" stroke-width="1.4" fill="none"/><path d="M445.9 334.9V348.1" stroke="#9dc3df" stroke-width="1.1"/><circle cx="445.9" cy="341.5" r="7.6" fill="none" stroke="#4f95c5" stroke-width="2.8"/><path d="M460.2 344.9V347.5M454.2 344.9H466.2M454.2 347.5H466.2" stroke="#9dc3df" stroke-width="1.4" fill="none"/><path d="M460.2 339.6V352.8" stroke="#9dc3df" stroke-width="1.1"/><circle cx="460.2" cy="346.2" r="7.6" fill="none" stroke="#4f95c5" stroke-width="2.8"/><path d="M474.5 322.7V325.3M468.5 322.7H480.5M468.5 325.3H480.5" stroke="#9dc3df" stroke-width="1.4" fill="none"/><path d="M474.5 317.4V330.6" stroke="#9dc3df" stroke-width="1.1"/><circle cx="474.5" cy="324.0" r="7.6" fill="none" stroke="#4f95c5" stroke-width="2.8"/><path d="M488.7 293.5V296.1M482.7 293.5H494.7M482.7 296.1H494.7" stroke="#9dc3df" stroke-width="1.4" fill="none"/><path d="M488.7 288.2V301.4" stroke="#9dc3df" stroke-width="1.1"/><circle cx="488.7" cy="294.8" r="7.6" fill="none" stroke="#4f95c5" stroke-width="2.8"/><path d="M503.0 266.6V269.2M497.0 266.6H509.0M497.0 269.2H509.0" stroke="#9dc3df" stroke-width="1.4" fill="none"/><path d="M503.0 261.3V274.5" stroke="#9dc3df" stroke-width="1.1"/><circle cx="503.0" cy="267.9" r="7.6" fill="none" stroke="#4f95c5" stroke-width="2.8"/><path d="M517.2 245.6V248.2M511.2 245.6H523.2M511.2 248.2H523.2" stroke="#9dc3df" stroke-width="1.4" fill="none"/><path d="M517.2 240.3V253.5" stroke="#9dc3df" stroke-width="1.1"/><circle cx="517.2" cy="246.9" r="7.6" fill="none" stroke="#4f95c5" stroke-width="2.8"/><path d="M531.5 237.8V240.4M525.5 237.8H537.5M525.5 240.4H537.5" stroke="#9dc3df" stroke-width="1.4" fill="none"/><path d="M531.5 232.5V245.7" stroke="#9dc3df" stroke-width="1.1"/><circle cx="531.5" cy="239.1" r="7.6" fill="none" stroke="#4f95c5" stroke-width="2.8"/><path d="M545.8 262.9V265.5M539.8 262.9H551.8M539.8 265.5H551.8" stroke="#9dc3df" stroke-width="1.4" fill="none"/><path d="M545.8 257.6V270.8" stroke="#9dc3df" stroke-width="1.1"/><circle cx="545.8" cy="264.2" r="7.6" fill="none" stroke="#4f95c5" stroke-width="2.8"/><path d="M560.0 284.0V286.6M554.0 284.0H566.0M554.0 286.6H566.0" stroke="#9dc3df" stroke-width="1.4" fill="none"/><path d="M560.0 278.7V291.9" stroke="#9dc3df" stroke-width="1.1"/><circle cx="560.0" cy="285.3" r="7.6" fill="none" stroke="#4f95c5" stroke-width="2.8"/><path d="M574.3 320.3V322.9M568.3 320.3H580.3M568.3 322.9H580.3" stroke="#9dc3df" stroke-width="1.4" fill="none"/><path d="M574.3 315.0V328.2" stroke="#9dc3df" stroke-width="1.1"/><circle cx="574.3" cy="321.6" r="7.6" fill="none" stroke="#4f95c5" stroke-width="2.8"/><path d="M588.6 323.0V325.6M582.6 323.0H594.6M582.6 325.6H594.6" stroke="#9dc3df" stroke-width="1.4" fill="none"/><path d="M588.6 317.7V330.9" stroke="#9dc3df" stroke-width="1.1"/><circle cx="588.6" cy="324.3" r="7.6" fill="none" stroke="#4f95c5" stroke-width="2.8"/><path d="M602.8 314.0V316.6M596.8 314.0H608.8M596.8 316.6H608.8" stroke="#9dc3df" stroke-width="1.4" fill="none"/><path d="M602.8 308.7V321.9" stroke="#9dc3df" stroke-width="1.1"/><circle cx="602.8" cy="315.3" r="7.6" fill="none" stroke="#4f95c5" stroke-width="2.8"/><path d="M617.1 292.0V294.6M611.1 292.0H623.1M611.1 294.6H623.1" stroke="#9dc3df" stroke-width="1.4" fill="none"/><path d="M617.1 286.7V299.9" stroke="#9dc3df" stroke-width="1.1"/><circle cx="617.1" cy="293.3" r="7.6" fill="none" stroke="#4f95c5" stroke-width="2.8"/><path d="M631.4 261.0V263.6M625.4 261.0H637.4M625.4 263.6H637.4" stroke="#9dc3df" stroke-width="1.4" fill="none"/><path d="M631.4 255.7V268.9" stroke="#9dc3df" stroke-width="1.1"/><circle cx="631.4" cy="262.3" r="7.6" fill="none" stroke="#4f95c5" stroke-width="2.8"/></g>
<polyline points="117.8,267.0 120.7,263.0 123.5,259.5 126.4,256.7 129.2,254.6 132.1,253.3 134.9,252.7 137.8,253.0 140.6,254.1 143.5,256.0 146.3,258.8 149.2,262.2 152.0,266.4 154.9,271.2 157.7,276.5 160.6,282.2 163.5,288.3 166.3,294.7 169.2,301.1 172.0,307.5 174.9,313.7 177.7,319.8 180.6,325.4 183.4,330.6 186.3,335.1 189.1,339.1 192.0,342.2 194.8,344.6 197.7,346.1 200.5,346.6 203.4,346.3 206.2,345.1 209.1,343.0 212.0,340.0 214.8,336.2 217.7,331.6 220.5,326.4 223.4,320.7 226.2,314.4 229.1,307.8 231.9,300.9 234.8,293.9 237.6,287.0 240.5,280.1 243.3,273.5 246.2,267.3 249.0,261.5 251.9,256.3 254.8,251.8 257.6,248.0 260.5,245.0 263.3,242.9 266.2,241.6 269.0,241.2 271.9,241.7 274.7,243.1 277.6,245.4 280.4,248.4 283.3,252.1 286.1,256.5 289.0,261.4 291.8,266.7 294.7,272.4 297.6,278.3 300.4,284.3 303.3,290.3 306.1,296.2 309.0,301.8 311.8,307.1 314.7,311.9 317.5,316.2 320.4,319.8 323.2,322.7 326.1,324.9 328.9,326.3 331.8,326.9 334.6,326.7 337.5,325.7 340.3,323.9 343.2,321.4 346.1,318.3 348.9,314.5 351.8,310.3 354.6,305.6 357.5,300.6 360.3,295.4 363.2,290.1 366.0,284.9 368.9,279.8 371.7,275.0 374.6,270.5 377.4,266.5 380.3,263.0 383.1,260.2 386.0,258.1 388.9,256.8 391.7,256.3 394.6,256.5 397.4,257.6 400.3,259.6 403.1,262.3 406.0,265.8 408.8,269.9 411.7,274.7 414.5,280.0 417.4,285.8 420.2,291.9 423.1,298.2 425.9,304.6 428.8,311.0 431.7,317.3 434.5,323.3 437.4,328.9 440.2,334.1 443.1,338.7 445.9,342.6 448.8,345.8 451.6,348.1 454.5,349.6 457.3,350.2 460.2,349.9 463.0,348.6 465.9,346.5 468.7,343.5 471.6,339.7 474.5,335.2 477.3,330.0 480.2,324.2 483.0,317.9 485.9,311.3 488.7,304.5 491.6,297.5 494.4,290.5 497.3,283.7 500.1,277.0 503.0,270.8 505.8,265.0 508.7,259.8 511.5,255.3 514.4,251.5 517.2,248.5 520.1,246.4 523.0,245.1 525.8,244.8 528.7,245.3 531.5,246.7 534.4,248.9 537.2,251.9 540.1,255.6 542.9,260.0 545.8,264.9 548.6,270.3 551.5,275.9 554.3,281.9 557.2,287.9 560.0,293.9 562.9,299.7 565.8,305.4 568.6,310.6 571.5,315.4 574.3,319.7 577.2,323.3 580.0,326.3 582.9,328.4 585.7,329.8 588.6,330.4 591.4,330.2 594.3,329.2 597.1,327.5 600.0,325.0 602.8,321.8 605.7,318.0 608.6,313.8 611.4,309.1 614.3,304.1 617.1,298.9 620.0,293.7 622.8,288.4 625.7,283.3 628.5,278.5 631.4,274.0" fill="none" stroke="#4f95c5" stroke-width="5" stroke-linejoin="round" stroke-linecap="round"/>
<g><path d="M117.8 449.1V467.1M109.8 449.1H125.8M109.8 467.1H125.8" stroke="#6f969c" stroke-width="1.4" fill="none"/><circle cx="117.8" cy="458.1" r="7.6" fill="none" stroke="#1f535c" stroke-width="2.8"/><path d="M132.1 482.8V507.4M124.1 482.8H140.1M124.1 507.4H140.1" stroke="#6f969c" stroke-width="1.4" fill="none"/><circle cx="132.1" cy="495.1" r="7.6" fill="none" stroke="#1f535c" stroke-width="2.8"/><path d="M146.3 508.4V514.4M138.3 508.4H154.3M138.3 514.4H154.3" stroke="#6f969c" stroke-width="1.4" fill="none"/><circle cx="146.3" cy="511.4" r="7.6" fill="none" stroke="#1f535c" stroke-width="2.8"/><path d="M160.6 541.7V547.7M152.6 541.7H168.6M152.6 547.7H168.6" stroke="#6f969c" stroke-width="1.4" fill="none"/><circle cx="160.6" cy="544.7" r="7.6" fill="none" stroke="#1f535c" stroke-width="2.8"/><path d="M174.9 555.1V561.1M166.9 555.1H182.9M166.9 561.1H182.9" stroke="#6f969c" stroke-width="1.4" fill="none"/><circle cx="174.9" cy="558.1" r="7.6" fill="none" stroke="#1f535c" stroke-width="2.8"/><path d="M189.1 560.0V583.4M181.1 560.0H197.1M181.1 583.4H197.1" stroke="#6f969c" stroke-width="1.4" fill="none"/><circle cx="189.1" cy="571.7" r="7.6" fill="none" stroke="#1f535c" stroke-width="2.8"/><path d="M203.4 546.3V552.3M195.4 546.3H211.4M195.4 552.3H211.4" stroke="#6f969c" stroke-width="1.4" fill="none"/><circle cx="203.4" cy="549.3" r="7.6" fill="none" stroke="#1f535c" stroke-width="2.8"/><path d="M217.7 509.6V515.6M209.7 509.6H225.7M209.7 515.6H225.7" stroke="#6f969c" stroke-width="1.4" fill="none"/><circle cx="217.7" cy="512.6" r="7.6" fill="none" stroke="#1f535c" stroke-width="2.8"/><path d="M231.9 469.1V475.1M223.9 469.1H239.9M223.9 475.1H239.9" stroke="#6f969c" stroke-width="1.4" fill="none"/><circle cx="231.9" cy="472.1" r="7.6" fill="none" stroke="#1f535c" stroke-width="2.8"/><path d="M246.2 432.8V442.8M238.2 432.8H254.2M238.2 442.8H254.2" stroke="#6f969c" stroke-width="1.4" fill="none"/><circle cx="246.2" cy="437.8" r="7.6" fill="none" stroke="#1f535c" stroke-width="2.8"/><path d="M260.5 391.6V415.6M252.5 391.6H268.5M252.5 415.6H268.5" stroke="#6f969c" stroke-width="1.4" fill="none"/><circle cx="260.5" cy="403.6" r="7.6" fill="none" stroke="#1f535c" stroke-width="2.8"/><path d="M274.7 389.2V395.2M266.7 389.2H282.7M266.7 395.2H282.7" stroke="#6f969c" stroke-width="1.4" fill="none"/><circle cx="274.7" cy="392.2" r="7.6" fill="none" stroke="#1f535c" stroke-width="2.8"/><path d="M289.0 384.1V390.1M281.0 384.1H297.0M281.0 390.1H297.0" stroke="#6f969c" stroke-width="1.4" fill="none"/><circle cx="289.0" cy="387.1" r="7.6" fill="none" stroke="#1f535c" stroke-width="2.8"/><path d="M303.3 390.4V396.4M295.3 390.4H311.3M295.3 396.4H311.3" stroke="#6f969c" stroke-width="1.4" fill="none"/><circle cx="303.3" cy="393.4" r="7.6" fill="none" stroke="#1f535c" stroke-width="2.8"/><path d="M317.5 399.7V405.7M309.5 399.7H325.5M309.5 405.7H325.5" stroke="#6f969c" stroke-width="1.4" fill="none"/><circle cx="317.5" cy="402.7" r="7.6" fill="none" stroke="#1f535c" stroke-width="2.8"/><path d="M331.8 410.3V416.3M323.8 410.3H339.8M323.8 416.3H339.8" stroke="#6f969c" stroke-width="1.4" fill="none"/><circle cx="331.8" cy="413.3" r="7.6" fill="none" stroke="#1f535c" stroke-width="2.8"/><path d="M346.1 420.1V426.1M338.1 420.1H354.1M338.1 426.1H354.1" stroke="#6f969c" stroke-width="1.4" fill="none"/><circle cx="346.1" cy="423.1" r="7.6" fill="none" stroke="#1f535c" stroke-width="2.8"/><path d="M360.3 427.9V433.9M352.3 427.9H368.3M352.3 433.9H368.3" stroke="#6f969c" stroke-width="1.4" fill="none"/><circle cx="360.3" cy="430.9" r="7.6" fill="none" stroke="#1f535c" stroke-width="2.8"/><path d="M374.6 451.4V459.4M366.6 451.4H382.6M366.6 459.4H382.6" stroke="#6f969c" stroke-width="1.4" fill="none"/><circle cx="374.6" cy="455.4" r="7.6" fill="none" stroke="#1f535c" stroke-width="2.8"/><path d="M388.9 494.5V500.5M380.9 494.5H396.9M380.9 500.5H396.9" stroke="#6f969c" stroke-width="1.4" fill="none"/><circle cx="388.9" cy="497.5" r="7.6" fill="none" stroke="#1f535c" stroke-width="2.8"/><path d="M403.1 518.9V524.9M395.1 518.9H411.1M395.1 524.9H411.1" stroke="#6f969c" stroke-width="1.4" fill="none"/><circle cx="403.1" cy="521.9" r="7.6" fill="none" stroke="#1f535c" stroke-width="2.8"/><path d="M417.4 545.0V567.0M409.4 545.0H425.4M409.4 567.0H425.4" stroke="#6f969c" stroke-width="1.4" fill="none"/><circle cx="417.4" cy="556.0" r="7.6" fill="none" stroke="#1f535c" stroke-width="2.8"/><path d="M431.7 557.1V573.1M423.7 557.1H439.7M423.7 573.1H439.7" stroke="#6f969c" stroke-width="1.4" fill="none"/><circle cx="431.7" cy="565.1" r="7.6" fill="none" stroke="#1f535c" stroke-width="2.8"/><path d="M445.9 569.6V575.6M437.9 569.6H453.9M437.9 575.6H453.9" stroke="#6f969c" stroke-width="1.4" fill="none"/><circle cx="445.9" cy="572.6" r="7.6" fill="none" stroke="#1f535c" stroke-width="2.8"/><path d="M460.2 548.1V554.1M452.2 548.1H468.2M452.2 554.1H468.2" stroke="#6f969c" stroke-width="1.4" fill="none"/><circle cx="460.2" cy="551.1" r="7.6" fill="none" stroke="#1f535c" stroke-width="2.8"/><path d="M474.5 509.6V534.2M466.5 509.6H482.5M466.5 534.2H482.5" stroke="#6f969c" stroke-width="1.4" fill="none"/><circle cx="474.5" cy="521.9" r="7.6" fill="none" stroke="#1f535c" stroke-width="2.8"/><path d="M488.7 471.0V477.0M480.7 471.0H496.7M480.7 477.0H496.7" stroke="#6f969c" stroke-width="1.4" fill="none"/><circle cx="488.7" cy="474.0" r="7.6" fill="none" stroke="#1f535c" stroke-width="2.8"/><path d="M503.0 424.9V436.9M495.0 424.9H511.0M495.0 436.9H511.0" stroke="#6f969c" stroke-width="1.4" fill="none"/><circle cx="503.0" cy="430.9" r="7.6" fill="none" stroke="#1f535c" stroke-width="2.8"/><path d="M517.2 397.4V403.4M509.2 397.4H525.2M509.2 403.4H525.2" stroke="#6f969c" stroke-width="1.4" fill="none"/><circle cx="517.2" cy="400.4" r="7.6" fill="none" stroke="#1f535c" stroke-width="2.8"/><path d="M531.5 389.2V395.2M523.5 389.2H539.5M523.5 395.2H539.5" stroke="#6f969c" stroke-width="1.4" fill="none"/><circle cx="531.5" cy="392.2" r="7.6" fill="none" stroke="#1f535c" stroke-width="2.8"/><path d="M545.8 391.0V397.0M537.8 391.0H553.8M537.8 397.0H553.8" stroke="#6f969c" stroke-width="1.4" fill="none"/><circle cx="545.8" cy="394.0" r="7.6" fill="none" stroke="#1f535c" stroke-width="2.8"/><path d="M560.0 398.9V404.9M552.0 398.9H568.0M552.0 404.9H568.0" stroke="#6f969c" stroke-width="1.4" fill="none"/><circle cx="560.0" cy="401.9" r="7.6" fill="none" stroke="#1f535c" stroke-width="2.8"/><path d="M574.3 407.4V413.4M566.3 407.4H582.3M566.3 413.4H582.3" stroke="#6f969c" stroke-width="1.4" fill="none"/><circle cx="574.3" cy="410.4" r="7.6" fill="none" stroke="#1f535c" stroke-width="2.8"/><path d="M588.6 414.0V436.0M580.6 414.0H596.6M580.6 436.0H596.6" stroke="#6f969c" stroke-width="1.4" fill="none"/><circle cx="588.6" cy="425.0" r="7.6" fill="none" stroke="#1f535c" stroke-width="2.8"/><path d="M602.8 426.2V442.2M594.8 426.2H610.8M594.8 442.2H610.8" stroke="#6f969c" stroke-width="1.4" fill="none"/><circle cx="602.8" cy="434.2" r="7.6" fill="none" stroke="#1f535c" stroke-width="2.8"/><path d="M617.1 435.7V441.7M609.1 435.7H625.1M609.1 441.7H625.1" stroke="#6f969c" stroke-width="1.4" fill="none"/><circle cx="617.1" cy="438.7" r="7.6" fill="none" stroke="#1f535c" stroke-width="2.8"/><path d="M631.4 451.2V457.2M623.4 451.2H639.4M623.4 457.2H639.4" stroke="#6f969c" stroke-width="1.4" fill="none"/><circle cx="631.4" cy="454.2" r="7.6" fill="none" stroke="#1f535c" stroke-width="2.8"/></g>
<polyline points="117.8,462.5 120.7,467.5 123.5,472.9 126.4,478.6 129.2,484.6 132.1,490.8 134.9,497.2 137.8,503.7 140.6,510.4 143.5,517.1 146.3,523.7 149.2,530.3 152.0,536.7 154.9,542.8 157.7,548.6 160.6,554.1 163.5,559.1 166.3,563.5 169.2,567.4 172.0,570.6 174.9,573.2 177.7,575.0 180.6,576.0 183.4,576.2 186.3,575.6 189.1,574.2 192.0,572.0 194.8,569.0 197.7,565.1 200.5,560.6 203.4,555.3 206.2,549.4 209.1,542.8 212.0,535.8 214.8,528.3 217.7,520.4 220.5,512.2 223.4,503.8 226.2,495.2 229.1,486.6 231.9,478.1 234.8,469.6 237.6,461.4 240.5,453.4 243.3,445.8 246.2,438.6 249.0,431.8 251.9,425.6 254.8,419.9 257.6,414.7 260.5,410.1 263.3,406.2 266.2,402.8 269.0,400.0 271.9,397.8 274.7,396.2 277.6,395.1 280.4,394.5 283.3,394.3 286.1,394.6 289.0,395.2 291.8,396.2 294.7,397.4 297.6,398.9 300.4,400.6 303.3,402.4 306.1,404.3 309.0,406.2 311.8,408.2 314.7,410.2 317.5,412.2 320.4,414.2 323.2,416.2 326.1,418.1 328.9,420.0 331.8,421.8 334.6,423.7 337.5,425.6 340.3,427.6 343.2,429.6 346.1,431.7 348.9,434.0 351.8,436.4 354.6,439.1 357.5,442.0 360.3,445.1 363.2,448.6 366.0,452.3 368.9,456.4 371.7,460.8 374.6,465.5 377.4,470.6 380.3,476.0 383.1,481.6 386.0,487.6 388.9,493.8 391.7,500.2 394.6,506.8 397.4,513.4 400.3,520.1 403.1,526.7 406.0,533.3 408.8,539.7 411.7,545.8 414.5,551.7 417.4,557.1 420.2,562.1 423.1,566.6 425.9,570.4 428.8,573.7 431.7,576.2 434.5,578.0 437.4,579.0 440.2,579.3 443.1,578.7 445.9,577.3 448.8,575.0 451.6,572.0 454.5,568.2 457.3,563.6 460.2,558.3 463.0,552.4 465.9,545.9 468.7,538.8 471.6,531.3 474.5,523.4 477.3,515.2 480.2,506.8 483.0,498.2 485.9,489.6 488.7,481.1 491.6,472.7 494.4,464.4 497.3,456.5 500.1,448.9 503.0,441.6 505.8,434.9 508.7,428.6 511.5,422.9 514.4,417.7 517.2,413.2 520.1,409.2 523.0,405.8 525.8,403.0 528.7,400.9 531.5,399.2 534.4,398.1 537.2,397.5 540.1,397.4 542.9,397.6 545.8,398.3 548.6,399.2 551.5,400.5 554.3,401.9 557.2,403.6 560.0,405.4 562.9,407.3 565.8,409.3 568.6,411.3 571.5,413.3 574.3,415.3 577.2,417.2 580.0,419.2 582.9,421.1 585.7,423.0 588.6,424.9 591.4,426.8 594.3,428.7 597.1,430.6 600.0,432.6 602.8,434.8 605.7,437.0 608.6,439.5 611.4,442.1 614.3,445.0 617.1,448.1 620.0,451.6 622.8,455.3 625.7,459.4 628.5,463.8 631.4,468.5" fill="none" stroke="#1f535c" stroke-width="5" stroke-linejoin="round" stroke-linecap="round"/>
<g><path d="M117.8 638.9V641.5M111.8 638.9H123.8M111.8 641.5H123.8" stroke="#f4d680" stroke-width="1.4" fill="none"/><path d="M117.8 633.6V646.8" stroke="#f4d680" stroke-width="1.1"/><circle cx="117.8" cy="640.2" r="7.6" fill="none" stroke="#eebc26" stroke-width="2.8"/><path d="M132.1 641.6V644.2M126.1 641.6H138.1M126.1 644.2H138.1" stroke="#f4d680" stroke-width="1.4" fill="none"/><path d="M132.1 636.3V649.5" stroke="#f4d680" stroke-width="1.1"/><circle cx="132.1" cy="642.9" r="7.6" fill="none" stroke="#eebc26" stroke-width="2.8"/><path d="M146.3 653.8V656.4M140.3 653.8H152.3M140.3 656.4H152.3" stroke="#f4d680" stroke-width="1.4" fill="none"/><path d="M146.3 648.5V661.7" stroke="#f4d680" stroke-width="1.1"/><circle cx="146.3" cy="655.1" r="7.6" fill="none" stroke="#eebc26" stroke-width="2.8"/><path d="M160.6 661.5V664.1M154.6 661.5H166.6M154.6 664.1H166.6" stroke="#f4d680" stroke-width="1.4" fill="none"/><path d="M160.6 656.2V669.4" stroke="#f4d680" stroke-width="1.1"/><circle cx="160.6" cy="662.8" r="7.6" fill="none" stroke="#eebc26" stroke-width="2.8"/><path d="M174.9 676.7V679.3M168.9 676.7H180.9M168.9 679.3H180.9" stroke="#f4d680" stroke-width="1.4" fill="none"/><path d="M174.9 671.4V684.6" stroke="#f4d680" stroke-width="1.1"/><circle cx="174.9" cy="678.0" r="7.6" fill="none" stroke="#eebc26" stroke-width="2.8"/><path d="M189.1 684.9V687.5M183.1 684.9H195.1M183.1 687.5H195.1" stroke="#f4d680" stroke-width="1.4" fill="none"/><path d="M189.1 679.6V692.8" stroke="#f4d680" stroke-width="1.1"/><circle cx="189.1" cy="686.2" r="7.6" fill="none" stroke="#eebc26" stroke-width="2.8"/><path d="M203.4 672.0V674.6M197.4 672.0H209.4M197.4 674.6H209.4" stroke="#f4d680" stroke-width="1.4" fill="none"/><path d="M203.4 666.7V679.9" stroke="#f4d680" stroke-width="1.1"/><circle cx="203.4" cy="673.3" r="7.6" fill="none" stroke="#eebc26" stroke-width="2.8"/><path d="M217.7 658.1V660.7M211.7 658.1H223.7M211.7 660.7H223.7" stroke="#f4d680" stroke-width="1.4" fill="none"/><path d="M217.7 652.8V666.0" stroke="#f4d680" stroke-width="1.1"/><circle cx="217.7" cy="659.4" r="7.6" fill="none" stroke="#eebc26" stroke-width="2.8"/><path d="M231.9 645.2V647.8M225.9 645.2H237.9M225.9 647.8H237.9" stroke="#f4d680" stroke-width="1.4" fill="none"/><path d="M231.9 639.9V653.1" stroke="#f4d680" stroke-width="1.1"/><circle cx="231.9" cy="646.5" r="7.6" fill="none" stroke="#eebc26" stroke-width="2.8"/><path d="M246.2 625.3V627.9M240.2 625.3H252.2M240.2 627.9H252.2" stroke="#f4d680" stroke-width="1.4" fill="none"/><path d="M246.2 620.0V633.2" stroke="#f4d680" stroke-width="1.1"/><circle cx="246.2" cy="626.6" r="7.6" fill="none" stroke="#eebc26" stroke-width="2.8"/><path d="M260.5 617.1V619.7M254.5 617.1H266.5M254.5 619.7H266.5" stroke="#f4d680" stroke-width="1.4" fill="none"/><path d="M260.5 611.8V625.0" stroke="#f4d680" stroke-width="1.1"/><circle cx="260.5" cy="618.4" r="7.6" fill="none" stroke="#eebc26" stroke-width="2.8"/><path d="M274.7 611.6V614.2M268.7 611.6H280.7M268.7 614.2H280.7" stroke="#f4d680" stroke-width="1.4" fill="none"/><path d="M274.7 606.3V619.5" stroke="#f4d680" stroke-width="1.1"/><circle cx="274.7" cy="612.9" r="7.6" fill="none" stroke="#eebc26" stroke-width="2.8"/><path d="M289.0 616.4V619.0M283.0 616.4H295.0M283.0 619.0H295.0" stroke="#f4d680" stroke-width="1.4" fill="none"/><path d="M289.0 611.1V624.3" stroke="#f4d680" stroke-width="1.1"/><circle cx="289.0" cy="617.7" r="7.6" fill="none" stroke="#eebc26" stroke-width="2.8"/><path d="M303.3 617.1V619.7M297.3 617.1H309.3M297.3 619.7H309.3" stroke="#f4d680" stroke-width="1.4" fill="none"/><path d="M303.3 611.8V625.0" stroke="#f4d680" stroke-width="1.1"/><circle cx="303.3" cy="618.4" r="7.6" fill="none" stroke="#eebc26" stroke-width="2.8"/><path d="M317.5 622.9V625.5M311.5 622.9H323.5M311.5 625.5H323.5" stroke="#f4d680" stroke-width="1.4" fill="none"/><path d="M317.5 617.6V630.8" stroke="#f4d680" stroke-width="1.1"/><circle cx="317.5" cy="624.2" r="7.6" fill="none" stroke="#eebc26" stroke-width="2.8"/><path d="M331.8 631.8V634.4M325.8 631.8H337.8M325.8 634.4H337.8" stroke="#f4d680" stroke-width="1.4" fill="none"/><path d="M331.8 626.5V639.7" stroke="#f4d680" stroke-width="1.1"/><circle cx="331.8" cy="633.1" r="7.6" fill="none" stroke="#eebc26" stroke-width="2.8"/><path d="M346.1 632.8V635.4M340.1 632.8H352.1M340.1 635.4H352.1" stroke="#f4d680" stroke-width="1.4" fill="none"/><path d="M346.1 627.5V640.7" stroke="#f4d680" stroke-width="1.1"/><circle cx="346.1" cy="634.1" r="7.6" fill="none" stroke="#eebc26" stroke-width="2.8"/><path d="M360.3 634.2V636.8M354.3 634.2H366.3M354.3 636.8H366.3" stroke="#f4d680" stroke-width="1.4" fill="none"/><path d="M360.3 628.9V642.1" stroke="#f4d680" stroke-width="1.1"/><circle cx="360.3" cy="635.5" r="7.6" fill="none" stroke="#eebc26" stroke-width="2.8"/><path d="M374.6 638.1V640.7M368.6 638.1H380.6M368.6 640.7H380.6" stroke="#f4d680" stroke-width="1.4" fill="none"/><path d="M374.6 632.8V646.0" stroke="#f4d680" stroke-width="1.1"/><circle cx="374.6" cy="639.4" r="7.6" fill="none" stroke="#eebc26" stroke-width="2.8"/><path d="M388.9 644.0V646.6M382.9 644.0H394.9M382.9 646.6H394.9" stroke="#f4d680" stroke-width="1.4" fill="none"/><path d="M388.9 638.7V651.9" stroke="#f4d680" stroke-width="1.1"/><circle cx="388.9" cy="645.3" r="7.6" fill="none" stroke="#eebc26" stroke-width="2.8"/><path d="M403.1 653.4V656.0M397.1 653.4H409.1M397.1 656.0H409.1" stroke="#f4d680" stroke-width="1.4" fill="none"/><path d="M403.1 648.1V661.3" stroke="#f4d680" stroke-width="1.1"/><circle cx="403.1" cy="654.7" r="7.6" fill="none" stroke="#eebc26" stroke-width="2.8"/><path d="M417.4 663.3V665.9M411.4 663.3H423.4M411.4 665.9H423.4" stroke="#f4d680" stroke-width="1.4" fill="none"/><path d="M417.4 658.0V671.2" stroke="#f4d680" stroke-width="1.1"/><circle cx="417.4" cy="664.6" r="7.6" fill="none" stroke="#eebc26" stroke-width="2.8"/><path d="M431.7 674.3V676.9M425.7 674.3H437.7M425.7 676.9H437.7" stroke="#f4d680" stroke-width="1.4" fill="none"/><path d="M431.7 669.0V682.2" stroke="#f4d680" stroke-width="1.1"/><circle cx="431.7" cy="675.6" r="7.6" fill="none" stroke="#eebc26" stroke-width="2.8"/><path d="M445.9 683.7V686.3M439.9 683.7H451.9M439.9 686.3H451.9" stroke="#f4d680" stroke-width="1.4" fill="none"/><path d="M445.9 678.4V691.6" stroke="#f4d680" stroke-width="1.1"/><circle cx="445.9" cy="685.0" r="7.6" fill="none" stroke="#eebc26" stroke-width="2.8"/><path d="M460.2 677.8V680.4M454.2 677.8H466.2M454.2 680.4H466.2" stroke="#f4d680" stroke-width="1.4" fill="none"/><path d="M460.2 672.5V685.7" stroke="#f4d680" stroke-width="1.1"/><circle cx="460.2" cy="679.1" r="7.6" fill="none" stroke="#eebc26" stroke-width="2.8"/><path d="M474.5 672.0V674.6M468.5 672.0H480.5M468.5 674.6H480.5" stroke="#f4d680" stroke-width="1.4" fill="none"/><path d="M474.5 666.7V679.9" stroke="#f4d680" stroke-width="1.1"/><circle cx="474.5" cy="673.3" r="7.6" fill="none" stroke="#eebc26" stroke-width="2.8"/><path d="M488.7 651.0V653.6M482.7 651.0H494.7M482.7 653.6H494.7" stroke="#f4d680" stroke-width="1.4" fill="none"/><path d="M488.7 645.7V658.9" stroke="#f4d680" stroke-width="1.1"/><circle cx="488.7" cy="652.3" r="7.6" fill="none" stroke="#eebc26" stroke-width="2.8"/><path d="M503.0 638.1V640.7M497.0 638.1H509.0M497.0 640.7H509.0" stroke="#f4d680" stroke-width="1.4" fill="none"/><path d="M503.0 632.8V646.0" stroke="#f4d680" stroke-width="1.1"/><circle cx="503.0" cy="639.4" r="7.6" fill="none" stroke="#eebc26" stroke-width="2.8"/><path d="M517.2 626.5V629.1M511.2 626.5H523.2M511.2 629.1H523.2" stroke="#f4d680" stroke-width="1.4" fill="none"/><path d="M517.2 621.2V634.4" stroke="#f4d680" stroke-width="1.1"/><circle cx="517.2" cy="627.8" r="7.6" fill="none" stroke="#eebc26" stroke-width="2.8"/><path d="M531.5 618.7V621.3M525.5 618.7H537.5M525.5 621.3H537.5" stroke="#f4d680" stroke-width="1.4" fill="none"/><path d="M531.5 613.4V626.6" stroke="#f4d680" stroke-width="1.1"/><circle cx="531.5" cy="620.0" r="7.6" fill="none" stroke="#eebc26" stroke-width="2.8"/><path d="M545.8 620.4V623.0M539.8 620.4H551.8M539.8 623.0H551.8" stroke="#f4d680" stroke-width="1.4" fill="none"/><path d="M545.8 615.1V628.3" stroke="#f4d680" stroke-width="1.1"/><circle cx="545.8" cy="621.7" r="7.6" fill="none" stroke="#eebc26" stroke-width="2.8"/><path d="M560.0 621.5V624.1M554.0 621.5H566.0M554.0 624.1H566.0" stroke="#f4d680" stroke-width="1.4" fill="none"/><path d="M560.0 616.2V629.4" stroke="#f4d680" stroke-width="1.1"/><circle cx="560.0" cy="622.8" r="7.6" fill="none" stroke="#eebc26" stroke-width="2.8"/><path d="M574.3 630.5V633.1M568.3 630.5H580.3M568.3 633.1H580.3" stroke="#f4d680" stroke-width="1.4" fill="none"/><path d="M574.3 625.2V638.4" stroke="#f4d680" stroke-width="1.1"/><circle cx="574.3" cy="631.8" r="7.6" fill="none" stroke="#eebc26" stroke-width="2.8"/><path d="M588.6 634.2V636.8M582.6 634.2H594.6M582.6 636.8H594.6" stroke="#f4d680" stroke-width="1.4" fill="none"/><path d="M588.6 628.9V642.1" stroke="#f4d680" stroke-width="1.1"/><circle cx="588.6" cy="635.5" r="7.6" fill="none" stroke="#eebc26" stroke-width="2.8"/><path d="M602.8 641.4V644.0M596.8 641.4H608.8M596.8 644.0H608.8" stroke="#f4d680" stroke-width="1.4" fill="none"/><path d="M602.8 636.1V649.3" stroke="#f4d680" stroke-width="1.1"/><circle cx="602.8" cy="642.7" r="7.6" fill="none" stroke="#eebc26" stroke-width="2.8"/><path d="M617.1 638.8V641.4M611.1 638.8H623.1M611.1 641.4H623.1" stroke="#f4d680" stroke-width="1.4" fill="none"/><path d="M617.1 633.5V646.7" stroke="#f4d680" stroke-width="1.1"/><circle cx="617.1" cy="640.1" r="7.6" fill="none" stroke="#eebc26" stroke-width="2.8"/><path d="M631.4 641.4V644.0M625.4 641.4H637.4M625.4 644.0H637.4" stroke="#f4d680" stroke-width="1.4" fill="none"/><path d="M631.4 636.1V649.3" stroke="#f4d680" stroke-width="1.1"/><circle cx="631.4" cy="642.7" r="7.6" fill="none" stroke="#eebc26" stroke-width="2.8"/></g>
<polyline points="117.8,642.7 120.7,643.8 123.5,644.9 126.4,646.3 129.2,647.7 132.1,649.4 134.9,651.2 137.8,653.1 140.6,655.2 143.5,657.4 146.3,659.7 149.2,662.1 152.0,664.5 154.9,667.0 157.7,669.4 160.6,671.8 163.5,674.1 166.3,676.3 169.2,678.4 172.0,680.3 174.9,681.9 177.7,683.4 180.6,684.6 183.4,685.5 186.3,686.1 189.1,686.4 192.0,686.4 194.8,686.0 197.7,685.3 200.5,684.2 203.4,682.8 206.2,681.1 209.1,679.1 212.0,676.9 214.8,674.3 217.7,671.6 220.5,668.6 223.4,665.5 226.2,662.2 229.1,658.9 231.9,655.5 234.8,652.1 237.6,648.7 240.5,645.4 243.3,642.2 246.2,639.2 249.0,636.3 251.9,633.6 254.8,631.1 257.6,628.9 260.5,627.0 263.3,625.3 266.2,623.9 269.0,622.8 271.9,621.9 274.7,621.4 277.6,621.1 280.4,621.1 283.3,621.4 286.1,621.8 289.0,622.5 291.8,623.3 294.7,624.3 297.6,625.4 300.4,626.6 303.3,627.8 306.1,629.1 309.0,630.5 311.8,631.8 314.7,633.1 317.5,634.3 320.4,635.5 323.2,636.6 326.1,637.6 328.9,638.5 331.8,639.3 334.6,640.0 337.5,640.6 340.3,641.2 343.2,641.6 346.1,642.1 348.9,642.4 351.8,642.8 354.6,643.1 357.5,643.5 360.3,643.9 363.2,644.3 366.0,644.9 368.9,645.5 371.7,646.3 374.6,647.1 377.4,648.2 380.3,649.3 383.1,650.6 386.0,652.1 388.9,653.8 391.7,655.6 394.6,657.5 397.4,659.6 400.3,661.8 403.1,664.1 406.0,666.5 408.8,668.9 411.7,671.4 414.5,673.8 417.4,676.2 420.2,678.5 423.1,680.7 425.9,682.8 428.8,684.7 431.7,686.3 434.5,687.8 437.4,689.0 440.2,689.9 443.1,690.5 445.9,690.8 448.8,690.8 451.6,690.4 454.5,689.7 457.3,688.6 460.2,687.2 463.0,685.5 465.9,683.5 468.7,681.3 471.6,678.7 474.5,676.0 477.3,673.0 480.2,669.9 483.0,666.6 485.9,663.3 488.7,659.9 491.6,656.5 494.4,653.1 497.3,649.8 500.1,646.6 503.0,643.6 505.8,640.7 508.7,638.0 511.5,635.5 514.4,633.3 517.2,631.4 520.1,629.7 523.0,628.3 525.8,627.2 528.7,626.3 531.5,625.8 534.4,625.5 537.2,625.5 540.1,625.7 542.9,626.2 545.8,626.9 548.6,627.7 551.5,628.7 554.3,629.8 557.2,631.0 560.0,632.2 562.9,633.5 565.8,634.9 568.6,636.2 571.5,637.5 574.3,638.7 577.2,639.9 580.0,640.9 582.9,642.0 585.7,642.9 588.6,643.7 591.4,644.4 594.3,645.0 597.1,645.6 600.0,646.0 602.8,646.5 605.7,646.8 608.6,647.2 611.4,647.5 614.3,647.9 617.1,648.3 620.0,648.7 622.8,649.3 625.7,649.9 628.5,650.7 631.4,651.5" fill="none" stroke="#eebc26" stroke-width="5" stroke-linejoin="round" stroke-linecap="round"/>
<g><path d="M117.8 738.5V741.1M111.8 738.5H123.8M111.8 741.1H123.8" stroke="#f0946a" stroke-width="1.4" fill="none"/><path d="M117.8 733.2V746.4" stroke="#f0946a" stroke-width="1.1"/><circle cx="117.8" cy="739.8" r="7.6" fill="none" stroke="#e8521a" stroke-width="2.8"/><path d="M132.1 747.8V750.4M126.1 747.8H138.1M126.1 750.4H138.1" stroke="#f0946a" stroke-width="1.4" fill="none"/><path d="M132.1 742.5V755.7" stroke="#f0946a" stroke-width="1.1"/><circle cx="132.1" cy="749.1" r="7.6" fill="none" stroke="#e8521a" stroke-width="2.8"/><path d="M146.3 740.1V742.7M140.3 740.1H152.3M140.3 742.7H152.3" stroke="#f0946a" stroke-width="1.4" fill="none"/><path d="M146.3 734.8V748.0" stroke="#f0946a" stroke-width="1.1"/><circle cx="146.3" cy="741.4" r="7.6" fill="none" stroke="#e8521a" stroke-width="2.8"/><path d="M160.6 749.4V752.0M154.6 749.4H166.6M154.6 752.0H166.6" stroke="#f0946a" stroke-width="1.4" fill="none"/><path d="M160.6 744.1V757.3" stroke="#f0946a" stroke-width="1.1"/><circle cx="160.6" cy="750.7" r="7.6" fill="none" stroke="#e8521a" stroke-width="2.8"/><path d="M174.9 759.5V762.1M168.9 759.5H180.9M168.9 762.1H180.9" stroke="#f0946a" stroke-width="1.4" fill="none"/><path d="M174.9 754.2V767.4" stroke="#f0946a" stroke-width="1.1"/><circle cx="174.9" cy="760.8" r="7.6" fill="none" stroke="#e8521a" stroke-width="2.8"/><path d="M189.1 771.2V773.8M183.1 771.2H195.1M183.1 773.8H195.1" stroke="#f0946a" stroke-width="1.4" fill="none"/><path d="M189.1 765.9V779.1" stroke="#f0946a" stroke-width="1.1"/><circle cx="189.1" cy="772.5" r="7.6" fill="none" stroke="#e8521a" stroke-width="2.8"/><path d="M203.4 771.2V773.8M197.4 771.2H209.4M197.4 773.8H209.4" stroke="#f0946a" stroke-width="1.4" fill="none"/><path d="M203.4 765.9V779.1" stroke="#f0946a" stroke-width="1.1"/><circle cx="203.4" cy="772.5" r="7.6" fill="none" stroke="#e8521a" stroke-width="2.8"/><path d="M217.7 762.5V765.1M211.7 762.5H223.7M211.7 765.1H223.7" stroke="#f0946a" stroke-width="1.4" fill="none"/><path d="M217.7 757.2V770.4" stroke="#f0946a" stroke-width="1.1"/><circle cx="217.7" cy="763.8" r="7.6" fill="none" stroke="#e8521a" stroke-width="2.8"/><path d="M231.9 748.5V751.1M225.9 748.5H237.9M225.9 751.1H237.9" stroke="#f0946a" stroke-width="1.4" fill="none"/><path d="M231.9 743.2V756.4" stroke="#f0946a" stroke-width="1.1"/><circle cx="231.9" cy="749.8" r="7.6" fill="none" stroke="#e8521a" stroke-width="2.8"/><path d="M246.2 740.8V743.4M240.2 740.8H252.2M240.2 743.4H252.2" stroke="#f0946a" stroke-width="1.4" fill="none"/><path d="M246.2 735.5V748.7" stroke="#f0946a" stroke-width="1.1"/><circle cx="246.2" cy="742.1" r="7.6" fill="none" stroke="#e8521a" stroke-width="2.8"/><path d="M260.5 723.8V726.4M254.5 723.8H266.5M254.5 726.4H266.5" stroke="#f0946a" stroke-width="1.4" fill="none"/><path d="M260.5 718.5V731.7" stroke="#f0946a" stroke-width="1.1"/><circle cx="260.5" cy="725.1" r="7.6" fill="none" stroke="#e8521a" stroke-width="2.8"/><path d="M274.7 723.3V725.9M268.7 723.3H280.7M268.7 725.9H280.7" stroke="#f0946a" stroke-width="1.4" fill="none"/><path d="M274.7 718.0V731.2" stroke="#f0946a" stroke-width="1.1"/><circle cx="274.7" cy="724.6" r="7.6" fill="none" stroke="#e8521a" stroke-width="2.8"/><path d="M289.0 726.8V729.4M283.0 726.8H295.0M283.0 729.4H295.0" stroke="#f0946a" stroke-width="1.4" fill="none"/><path d="M289.0 721.5V734.7" stroke="#f0946a" stroke-width="1.1"/><circle cx="289.0" cy="728.1" r="7.6" fill="none" stroke="#e8521a" stroke-width="2.8"/><path d="M303.3 737.4V740.0M297.3 737.4H309.3M297.3 740.0H309.3" stroke="#f0946a" stroke-width="1.4" fill="none"/><path d="M303.3 732.1V745.3" stroke="#f0946a" stroke-width="1.1"/><circle cx="303.3" cy="738.7" r="7.6" fill="none" stroke="#e8521a" stroke-width="2.8"/><path d="M317.5 744.3V746.9M311.5 744.3H323.5M311.5 746.9H323.5" stroke="#f0946a" stroke-width="1.4" fill="none"/><path d="M317.5 739.0V752.2" stroke="#f0946a" stroke-width="1.1"/><circle cx="317.5" cy="745.6" r="7.6" fill="none" stroke="#e8521a" stroke-width="2.8"/><path d="M331.8 750.8V753.4M325.8 750.8H337.8M325.8 753.4H337.8" stroke="#f0946a" stroke-width="1.4" fill="none"/><path d="M331.8 745.5V758.7" stroke="#f0946a" stroke-width="1.1"/><circle cx="331.8" cy="752.1" r="7.6" fill="none" stroke="#e8521a" stroke-width="2.8"/><path d="M346.1 758.3V760.9M340.1 758.3H352.1M340.1 760.9H352.1" stroke="#f0946a" stroke-width="1.4" fill="none"/><path d="M346.1 753.0V766.2" stroke="#f0946a" stroke-width="1.1"/><circle cx="346.1" cy="759.6" r="7.6" fill="none" stroke="#e8521a" stroke-width="2.8"/><path d="M360.3 750.8V753.4M354.3 750.8H366.3M354.3 753.4H366.3" stroke="#f0946a" stroke-width="1.4" fill="none"/><path d="M360.3 745.5V758.7" stroke="#f0946a" stroke-width="1.1"/><circle cx="360.3" cy="752.1" r="7.6" fill="none" stroke="#e8521a" stroke-width="2.8"/><path d="M374.6 740.8V743.4M368.6 740.8H380.6M368.6 743.4H380.6" stroke="#f0946a" stroke-width="1.4" fill="none"/><path d="M374.6 735.5V748.7" stroke="#f0946a" stroke-width="1.1"/><circle cx="374.6" cy="742.1" r="7.6" fill="none" stroke="#e8521a" stroke-width="2.8"/><path d="M388.9 738.5V741.1M382.9 738.5H394.9M382.9 741.1H394.9" stroke="#f0946a" stroke-width="1.4" fill="none"/><path d="M388.9 733.2V746.4" stroke="#f0946a" stroke-width="1.1"/><circle cx="388.9" cy="739.8" r="7.6" fill="none" stroke="#e8521a" stroke-width="2.8"/><path d="M403.1 742.1V744.7M397.1 742.1H409.1M397.1 744.7H409.1" stroke="#f0946a" stroke-width="1.4" fill="none"/><path d="M403.1 736.8V750.0" stroke="#f0946a" stroke-width="1.1"/><circle cx="403.1" cy="743.4" r="7.6" fill="none" stroke="#e8521a" stroke-width="2.8"/><path d="M417.4 761.8V764.4M411.4 761.8H423.4M411.4 764.4H423.4" stroke="#f0946a" stroke-width="1.4" fill="none"/><path d="M417.4 756.5V769.7" stroke="#f0946a" stroke-width="1.1"/><circle cx="417.4" cy="763.1" r="7.6" fill="none" stroke="#e8521a" stroke-width="2.8"/><path d="M431.7 772.3V774.9M425.7 772.3H437.7M425.7 774.9H437.7" stroke="#f0946a" stroke-width="1.4" fill="none"/><path d="M431.7 767.0V780.2" stroke="#f0946a" stroke-width="1.1"/><circle cx="431.7" cy="773.6" r="7.6" fill="none" stroke="#e8521a" stroke-width="2.8"/><path d="M445.9 777.0V779.6M439.9 777.0H451.9M439.9 779.6H451.9" stroke="#f0946a" stroke-width="1.4" fill="none"/><path d="M445.9 771.7V784.9" stroke="#f0946a" stroke-width="1.1"/><circle cx="445.9" cy="778.3" r="7.6" fill="none" stroke="#e8521a" stroke-width="2.8"/><path d="M460.2 785.2V787.8M454.2 785.2H466.2M454.2 787.8H466.2" stroke="#f0946a" stroke-width="1.4" fill="none"/><path d="M460.2 779.9V793.1" stroke="#f0946a" stroke-width="1.1"/><circle cx="460.2" cy="786.5" r="7.6" fill="none" stroke="#e8521a" stroke-width="2.8"/><path d="M474.5 772.3V774.9M468.5 772.3H480.5M468.5 774.9H480.5" stroke="#f0946a" stroke-width="1.4" fill="none"/><path d="M474.5 767.0V780.2" stroke="#f0946a" stroke-width="1.1"/><circle cx="474.5" cy="773.6" r="7.6" fill="none" stroke="#e8521a" stroke-width="2.8"/><path d="M488.7 752.5V755.1M482.7 752.5H494.7M482.7 755.1H494.7" stroke="#f0946a" stroke-width="1.4" fill="none"/><path d="M488.7 747.2V760.4" stroke="#f0946a" stroke-width="1.1"/><circle cx="488.7" cy="753.8" r="7.6" fill="none" stroke="#e8521a" stroke-width="2.8"/><path d="M503.0 737.4V740.0M497.0 737.4H509.0M497.0 740.0H509.0" stroke="#f0946a" stroke-width="1.4" fill="none"/><path d="M503.0 732.1V745.3" stroke="#f0946a" stroke-width="1.1"/><circle cx="503.0" cy="738.7" r="7.6" fill="none" stroke="#e8521a" stroke-width="2.8"/><path d="M517.2 727.6V730.2M511.2 727.6H523.2M511.2 730.2H523.2" stroke="#f0946a" stroke-width="1.4" fill="none"/><path d="M517.2 722.3V735.5" stroke="#f0946a" stroke-width="1.1"/><circle cx="517.2" cy="728.9" r="7.6" fill="none" stroke="#e8521a" stroke-width="2.8"/><path d="M531.5 725.5V728.1M525.5 725.5H537.5M525.5 728.1H537.5" stroke="#f0946a" stroke-width="1.4" fill="none"/><path d="M531.5 720.2V733.4" stroke="#f0946a" stroke-width="1.1"/><circle cx="531.5" cy="726.8" r="7.6" fill="none" stroke="#e8521a" stroke-width="2.8"/><path d="M545.8 738.6V741.2M539.8 738.6H551.8M539.8 741.2H551.8" stroke="#f0946a" stroke-width="1.4" fill="none"/><path d="M545.8 733.3V746.5" stroke="#f0946a" stroke-width="1.1"/><circle cx="545.8" cy="739.9" r="7.6" fill="none" stroke="#e8521a" stroke-width="2.8"/><path d="M560.0 744.2V746.8M554.0 744.2H566.0M554.0 746.8H566.0" stroke="#f0946a" stroke-width="1.4" fill="none"/><path d="M560.0 738.9V752.1" stroke="#f0946a" stroke-width="1.1"/><circle cx="560.0" cy="745.5" r="7.6" fill="none" stroke="#e8521a" stroke-width="2.8"/><path d="M574.3 754.6V757.2M568.3 754.6H580.3M568.3 757.2H580.3" stroke="#f0946a" stroke-width="1.4" fill="none"/><path d="M574.3 749.3V762.5" stroke="#f0946a" stroke-width="1.1"/><circle cx="574.3" cy="755.9" r="7.6" fill="none" stroke="#e8521a" stroke-width="2.8"/><path d="M588.6 756.5V759.1M582.6 756.5H594.6M582.6 759.1H594.6" stroke="#f0946a" stroke-width="1.4" fill="none"/><path d="M588.6 751.2V764.4" stroke="#f0946a" stroke-width="1.1"/><circle cx="588.6" cy="757.8" r="7.6" fill="none" stroke="#e8521a" stroke-width="2.8"/><path d="M602.8 753.7V756.3M596.8 753.7H608.8M596.8 756.3H608.8" stroke="#f0946a" stroke-width="1.4" fill="none"/><path d="M602.8 748.4V761.6" stroke="#f0946a" stroke-width="1.1"/><circle cx="602.8" cy="755.0" r="7.6" fill="none" stroke="#e8521a" stroke-width="2.8"/><path d="M617.1 746.4V749.0M611.1 746.4H623.1M611.1 749.0H623.1" stroke="#f0946a" stroke-width="1.4" fill="none"/><path d="M617.1 741.1V754.3" stroke="#f0946a" stroke-width="1.1"/><circle cx="617.1" cy="747.7" r="7.6" fill="none" stroke="#e8521a" stroke-width="2.8"/><path d="M631.4 743.8V746.4M625.4 743.8H637.4M625.4 746.4H637.4" stroke="#f0946a" stroke-width="1.4" fill="none"/><path d="M631.4 738.5V751.7" stroke="#f0946a" stroke-width="1.1"/><circle cx="631.4" cy="745.1" r="7.6" fill="none" stroke="#e8521a" stroke-width="2.8"/></g>
<polyline points="117.8,744.8 120.7,744.1 123.5,743.7 126.4,743.5 129.2,743.5 132.1,743.8 134.9,744.3 137.8,745.1 140.6,746.2 143.5,747.5 146.3,749.1 149.2,750.9 152.0,752.9 154.9,755.1 157.7,757.4 160.6,759.8 163.5,762.3 166.3,764.8 169.2,767.2 172.0,769.6 174.9,771.8 177.7,773.9 180.6,775.8 183.4,777.5 186.3,778.9 189.1,780.0 192.0,780.8 194.8,781.2 197.7,781.3 200.5,781.0 203.4,780.4 206.2,779.3 209.1,778.0 212.0,776.3 214.8,774.3 217.7,772.0 220.5,769.5 223.4,766.7 226.2,763.8 229.1,760.8 231.9,757.7 234.8,754.5 237.6,751.4 240.5,748.3 243.3,745.4 246.2,742.6 249.0,740.0 251.9,737.6 254.8,735.5 257.6,733.7 260.5,732.2 263.3,731.0 266.2,730.2 269.0,729.7 271.9,729.6 274.7,729.8 277.6,730.4 280.4,731.2 283.3,732.4 286.1,733.8 289.0,735.4 291.8,737.2 294.7,739.1 297.6,741.2 300.4,743.3 303.3,745.5 306.1,747.6 309.0,749.7 311.8,751.6 314.7,753.5 317.5,755.1 320.4,756.6 323.2,757.9 326.1,758.9 328.9,759.7 331.8,760.2 334.6,760.5 337.5,760.5 340.3,760.3 343.2,759.9 346.1,759.3 348.9,758.5 351.8,757.5 354.6,756.5 357.5,755.3 360.3,754.1 363.2,752.9 366.0,751.8 368.9,750.7 371.7,749.7 374.6,748.9 377.4,748.3 380.3,747.8 383.1,747.6 386.0,747.6 388.9,747.9 391.7,748.4 394.6,749.2 397.4,750.3 400.3,751.6 403.1,753.2 406.0,755.0 408.8,757.0 411.7,759.2 414.5,761.5 417.4,763.9 420.2,766.4 423.1,768.9 425.9,771.3 428.8,773.7 431.7,776.0 434.5,778.1 437.4,780.0 440.2,781.6 443.1,783.0 445.9,784.1 448.8,784.9 451.6,785.3 454.5,785.4 457.3,785.1 460.2,784.5 463.0,783.5 465.9,782.1 468.7,780.4 471.6,778.4 474.5,776.1 477.3,773.6 480.2,770.8 483.0,767.9 485.9,764.9 488.7,761.8 491.6,758.6 494.4,755.5 497.3,752.4 500.1,749.5 503.0,746.7 505.8,744.1 508.7,741.7 511.5,739.6 514.4,737.8 517.2,736.3 520.1,735.1 523.0,734.3 525.8,733.8 528.7,733.7 531.5,733.9 534.4,734.5 537.2,735.3 540.1,736.5 542.9,737.9 545.8,739.5 548.6,741.3 551.5,743.2 554.3,745.3 557.2,747.4 560.0,749.6 562.9,751.7 565.8,753.8 568.6,755.7 571.5,757.6 574.3,759.2 577.2,760.7 580.0,762.0 582.9,763.0 585.7,763.8 588.6,764.3 591.4,764.6 594.3,764.6 597.1,764.4 600.0,764.0 602.8,763.4 605.7,762.6 608.6,761.6 611.4,760.6 614.3,759.4 617.1,758.2 620.0,757.1 622.8,755.9 625.7,754.8 628.5,753.9 631.4,753.0" fill="none" stroke="#e8521a" stroke-width="5" stroke-linejoin="round" stroke-linecap="round"/>
<g><path d="M117.8 829.1V831.7M111.8 829.1H123.8M111.8 831.7H123.8" stroke="#c07a7a" stroke-width="1.4" fill="none"/><path d="M117.8 823.8V837.0" stroke="#c07a7a" stroke-width="1.1"/><circle cx="117.8" cy="830.4" r="7.6" fill="none" stroke="#961d1d" stroke-width="2.8"/><path d="M132.1 828.1V830.7M126.1 828.1H138.1M126.1 830.7H138.1" stroke="#c07a7a" stroke-width="1.4" fill="none"/><path d="M132.1 822.8V836.0" stroke="#c07a7a" stroke-width="1.1"/><circle cx="132.1" cy="829.4" r="7.6" fill="none" stroke="#961d1d" stroke-width="2.8"/><path d="M146.3 829.8V832.4M140.3 829.8H152.3M140.3 832.4H152.3" stroke="#c07a7a" stroke-width="1.4" fill="none"/><path d="M146.3 824.5V837.7" stroke="#c07a7a" stroke-width="1.1"/><circle cx="146.3" cy="831.1" r="7.6" fill="none" stroke="#961d1d" stroke-width="2.8"/><path d="M160.6 831.4V834.0M154.6 831.4H166.6M154.6 834.0H166.6" stroke="#c07a7a" stroke-width="1.4" fill="none"/><path d="M160.6 826.1V839.3" stroke="#c07a7a" stroke-width="1.1"/><circle cx="160.6" cy="832.7" r="7.6" fill="none" stroke="#961d1d" stroke-width="2.8"/><path d="M174.9 832.1V834.7M168.9 832.1H180.9M168.9 834.7H180.9" stroke="#c07a7a" stroke-width="1.4" fill="none"/><path d="M174.9 826.8V840.0" stroke="#c07a7a" stroke-width="1.1"/><circle cx="174.9" cy="833.4" r="7.6" fill="none" stroke="#961d1d" stroke-width="2.8"/><path d="M189.1 835.1V837.7M183.1 835.1H195.1M183.1 837.7H195.1" stroke="#c07a7a" stroke-width="1.4" fill="none"/><path d="M189.1 829.8V843.0" stroke="#c07a7a" stroke-width="1.1"/><circle cx="189.1" cy="836.4" r="7.6" fill="none" stroke="#961d1d" stroke-width="2.8"/><path d="M203.4 837.5V840.1M197.4 837.5H209.4M197.4 840.1H209.4" stroke="#c07a7a" stroke-width="1.4" fill="none"/><path d="M203.4 832.2V845.4" stroke="#c07a7a" stroke-width="1.1"/><circle cx="203.4" cy="838.8" r="7.6" fill="none" stroke="#961d1d" stroke-width="2.8"/><path d="M217.7 836.8V839.4M211.7 836.8H223.7M211.7 839.4H223.7" stroke="#c07a7a" stroke-width="1.4" fill="none"/><path d="M217.7 831.5V844.7" stroke="#c07a7a" stroke-width="1.1"/><circle cx="217.7" cy="838.1" r="7.6" fill="none" stroke="#961d1d" stroke-width="2.8"/><path d="M231.9 832.8V835.4M225.9 832.8H237.9M225.9 835.4H237.9" stroke="#c07a7a" stroke-width="1.4" fill="none"/><path d="M231.9 827.5V840.7" stroke="#c07a7a" stroke-width="1.1"/><circle cx="231.9" cy="834.1" r="7.6" fill="none" stroke="#961d1d" stroke-width="2.8"/><path d="M246.2 831.4V834.0M240.2 831.4H252.2M240.2 834.0H252.2" stroke="#c07a7a" stroke-width="1.4" fill="none"/><path d="M246.2 826.1V839.3" stroke="#c07a7a" stroke-width="1.1"/><circle cx="246.2" cy="832.7" r="7.6" fill="none" stroke="#961d1d" stroke-width="2.8"/><path d="M260.5 828.3V830.9M254.5 828.3H266.5M254.5 830.9H266.5" stroke="#c07a7a" stroke-width="1.4" fill="none"/><path d="M260.5 823.0V836.2" stroke="#c07a7a" stroke-width="1.1"/><circle cx="260.5" cy="829.6" r="7.6" fill="none" stroke="#961d1d" stroke-width="2.8"/><path d="M274.7 827.4V830.0M268.7 827.4H280.7M268.7 830.0H280.7" stroke="#c07a7a" stroke-width="1.4" fill="none"/><path d="M274.7 822.1V835.3" stroke="#c07a7a" stroke-width="1.1"/><circle cx="274.7" cy="828.7" r="7.6" fill="none" stroke="#961d1d" stroke-width="2.8"/><path d="M289.0 828.1V830.7M283.0 828.1H295.0M283.0 830.7H295.0" stroke="#c07a7a" stroke-width="1.4" fill="none"/><path d="M289.0 822.8V836.0" stroke="#c07a7a" stroke-width="1.1"/><circle cx="289.0" cy="829.4" r="7.6" fill="none" stroke="#961d1d" stroke-width="2.8"/><path d="M303.3 829.8V832.4M297.3 829.8H309.3M297.3 832.4H309.3" stroke="#c07a7a" stroke-width="1.4" fill="none"/><path d="M303.3 824.5V837.7" stroke="#c07a7a" stroke-width="1.1"/><circle cx="303.3" cy="831.1" r="7.6" fill="none" stroke="#961d1d" stroke-width="2.8"/><path d="M317.5 832.8V835.4M311.5 832.8H323.5M311.5 835.4H323.5" stroke="#c07a7a" stroke-width="1.4" fill="none"/><path d="M317.5 827.5V840.7" stroke="#c07a7a" stroke-width="1.1"/><circle cx="317.5" cy="834.1" r="7.6" fill="none" stroke="#961d1d" stroke-width="2.8"/><path d="M331.8 834.4V837.0M325.8 834.4H337.8M325.8 837.0H337.8" stroke="#c07a7a" stroke-width="1.4" fill="none"/><path d="M331.8 829.1V842.3" stroke="#c07a7a" stroke-width="1.1"/><circle cx="331.8" cy="835.7" r="7.6" fill="none" stroke="#961d1d" stroke-width="2.8"/><path d="M346.1 835.6V838.2M340.1 835.6H352.1M340.1 838.2H352.1" stroke="#c07a7a" stroke-width="1.4" fill="none"/><path d="M346.1 830.3V843.5" stroke="#c07a7a" stroke-width="1.1"/><circle cx="346.1" cy="836.9" r="7.6" fill="none" stroke="#961d1d" stroke-width="2.8"/><path d="M360.3 832.1V834.7M354.3 832.1H366.3M354.3 834.7H366.3" stroke="#c07a7a" stroke-width="1.4" fill="none"/><path d="M360.3 826.8V840.0" stroke="#c07a7a" stroke-width="1.1"/><circle cx="360.3" cy="833.4" r="7.6" fill="none" stroke="#961d1d" stroke-width="2.8"/><path d="M374.6 831.4V834.0M368.6 831.4H380.6M368.6 834.0H380.6" stroke="#c07a7a" stroke-width="1.4" fill="none"/><path d="M374.6 826.1V839.3" stroke="#c07a7a" stroke-width="1.1"/><circle cx="374.6" cy="832.7" r="7.6" fill="none" stroke="#961d1d" stroke-width="2.8"/><path d="M388.9 828.6V831.2M382.9 828.6H394.9M382.9 831.2H394.9" stroke="#c07a7a" stroke-width="1.4" fill="none"/><path d="M388.9 823.3V836.5" stroke="#c07a7a" stroke-width="1.1"/><circle cx="388.9" cy="829.9" r="7.6" fill="none" stroke="#961d1d" stroke-width="2.8"/><path d="M403.1 825.9V828.5M397.1 825.9H409.1M397.1 828.5H409.1" stroke="#c07a7a" stroke-width="1.4" fill="none"/><path d="M403.1 820.6V833.8" stroke="#c07a7a" stroke-width="1.1"/><circle cx="403.1" cy="827.2" r="7.6" fill="none" stroke="#961d1d" stroke-width="2.8"/><path d="M417.4 825.5V828.1M411.4 825.5H423.4M411.4 828.1H423.4" stroke="#c07a7a" stroke-width="1.4" fill="none"/><path d="M417.4 820.2V833.4" stroke="#c07a7a" stroke-width="1.1"/><circle cx="417.4" cy="826.8" r="7.6" fill="none" stroke="#961d1d" stroke-width="2.8"/><path d="M431.7 829.9V832.5M425.7 829.9H437.7M425.7 832.5H437.7" stroke="#c07a7a" stroke-width="1.4" fill="none"/><path d="M431.7 824.6V837.8" stroke="#c07a7a" stroke-width="1.1"/><circle cx="431.7" cy="831.2" r="7.6" fill="none" stroke="#961d1d" stroke-width="2.8"/><path d="M445.9 832.1V834.7M439.9 832.1H451.9M439.9 834.7H451.9" stroke="#c07a7a" stroke-width="1.4" fill="none"/><path d="M445.9 826.8V840.0" stroke="#c07a7a" stroke-width="1.1"/><circle cx="445.9" cy="833.4" r="7.6" fill="none" stroke="#961d1d" stroke-width="2.8"/><path d="M460.2 833.2V835.8M454.2 833.2H466.2M454.2 835.8H466.2" stroke="#c07a7a" stroke-width="1.4" fill="none"/><path d="M460.2 827.9V841.1" stroke="#c07a7a" stroke-width="1.1"/><circle cx="460.2" cy="834.5" r="7.6" fill="none" stroke="#961d1d" stroke-width="2.8"/><path d="M474.5 834.2V836.8M468.5 834.2H480.5M468.5 836.8H480.5" stroke="#c07a7a" stroke-width="1.4" fill="none"/><path d="M474.5 828.9V842.1" stroke="#c07a7a" stroke-width="1.1"/><circle cx="474.5" cy="835.5" r="7.6" fill="none" stroke="#961d1d" stroke-width="2.8"/><path d="M488.7 832.1V834.7M482.7 832.1H494.7M482.7 834.7H494.7" stroke="#c07a7a" stroke-width="1.4" fill="none"/><path d="M488.7 826.8V840.0" stroke="#c07a7a" stroke-width="1.1"/><circle cx="488.7" cy="833.4" r="7.6" fill="none" stroke="#961d1d" stroke-width="2.8"/><path d="M503.0 828.5V831.1M497.0 828.5H509.0M497.0 831.1H509.0" stroke="#c07a7a" stroke-width="1.4" fill="none"/><path d="M503.0 823.2V836.4" stroke="#c07a7a" stroke-width="1.1"/><circle cx="503.0" cy="829.8" r="7.6" fill="none" stroke="#961d1d" stroke-width="2.8"/><path d="M517.2 823.5V826.1M511.2 823.5H523.2M511.2 826.1H523.2" stroke="#c07a7a" stroke-width="1.4" fill="none"/><path d="M517.2 818.2V831.4" stroke="#c07a7a" stroke-width="1.1"/><circle cx="517.2" cy="824.8" r="7.6" fill="none" stroke="#961d1d" stroke-width="2.8"/><path d="M531.5 823.5V826.1M525.5 823.5H537.5M525.5 826.1H537.5" stroke="#c07a7a" stroke-width="1.4" fill="none"/><path d="M531.5 818.2V831.4" stroke="#c07a7a" stroke-width="1.1"/><circle cx="531.5" cy="824.8" r="7.6" fill="none" stroke="#961d1d" stroke-width="2.8"/><path d="M545.8 823.5V826.1M539.8 823.5H551.8M539.8 826.1H551.8" stroke="#c07a7a" stroke-width="1.4" fill="none"/><path d="M545.8 818.2V831.4" stroke="#c07a7a" stroke-width="1.1"/><circle cx="545.8" cy="824.8" r="7.6" fill="none" stroke="#961d1d" stroke-width="2.8"/><path d="M560.0 825.2V827.8M554.0 825.2H566.0M554.0 827.8H566.0" stroke="#c07a7a" stroke-width="1.4" fill="none"/><path d="M560.0 819.9V833.1" stroke="#c07a7a" stroke-width="1.1"/><circle cx="560.0" cy="826.5" r="7.6" fill="none" stroke="#961d1d" stroke-width="2.8"/><path d="M574.3 829.9V832.5M568.3 829.9H580.3M568.3 832.5H580.3" stroke="#c07a7a" stroke-width="1.4" fill="none"/><path d="M574.3 824.6V837.8" stroke="#c07a7a" stroke-width="1.1"/><circle cx="574.3" cy="831.2" r="7.6" fill="none" stroke="#961d1d" stroke-width="2.8"/><path d="M588.6 832.1V834.7M582.6 832.1H594.6M582.6 834.7H594.6" stroke="#c07a7a" stroke-width="1.4" fill="none"/><path d="M588.6 826.8V840.0" stroke="#c07a7a" stroke-width="1.1"/><circle cx="588.6" cy="833.4" r="7.6" fill="none" stroke="#961d1d" stroke-width="2.8"/><path d="M602.8 835.0V837.6M596.8 835.0H608.8M596.8 837.6H608.8" stroke="#c07a7a" stroke-width="1.4" fill="none"/><path d="M602.8 829.7V842.9" stroke="#c07a7a" stroke-width="1.1"/><circle cx="602.8" cy="836.3" r="7.6" fill="none" stroke="#961d1d" stroke-width="2.8"/><path d="M617.1 833.2V835.8M611.1 833.2H623.1M611.1 835.8H623.1" stroke="#c07a7a" stroke-width="1.4" fill="none"/><path d="M617.1 827.9V841.1" stroke="#c07a7a" stroke-width="1.1"/><circle cx="617.1" cy="834.5" r="7.6" fill="none" stroke="#961d1d" stroke-width="2.8"/><path d="M631.4 831.4V834.0M625.4 831.4H637.4M625.4 834.0H637.4" stroke="#c07a7a" stroke-width="1.4" fill="none"/><path d="M631.4 826.1V839.3" stroke="#c07a7a" stroke-width="1.1"/><circle cx="631.4" cy="832.7" r="7.6" fill="none" stroke="#961d1d" stroke-width="2.8"/></g>
<polyline points="117.8,838.0 120.7,837.4 123.5,836.8 126.4,836.3 129.2,835.8 132.1,835.3 134.9,834.9 137.8,834.5 140.6,834.3 143.5,834.1 146.3,834.0 149.2,834.0 152.0,834.0 154.9,834.2 157.7,834.4 160.6,834.7 163.5,835.1 166.3,835.5 169.2,836.0 172.0,836.6 174.9,837.1 177.7,837.7 180.6,838.3 183.4,838.9 186.3,839.4 189.1,840.0 192.0,840.5 194.8,840.9 197.7,841.3 200.5,841.6 203.4,841.8 206.2,841.9 209.1,842.0 212.0,842.0 214.8,841.8 217.7,841.6 220.5,841.3 223.4,840.9 226.2,840.5 229.1,840.0 231.9,839.4 234.8,838.7 237.6,838.0 240.5,837.3 243.3,836.6 246.2,835.9 249.0,835.2 251.9,834.5 254.8,833.8 257.6,833.2 260.5,832.7 263.3,832.2 266.2,831.8 269.0,831.5 271.9,831.3 274.7,831.2 277.6,831.1 280.4,831.2 283.3,831.3 286.1,831.6 289.0,831.9 291.8,832.3 294.7,832.7 297.6,833.3 300.4,833.9 303.3,834.5 306.1,835.1 309.0,835.8 311.8,836.4 314.7,837.1 317.5,837.7 320.4,838.3 323.2,838.9 326.1,839.4 328.9,839.8 331.8,840.1 334.6,840.4 337.5,840.6 340.3,840.7 343.2,840.7 346.1,840.6 348.9,840.4 351.8,840.2 354.6,839.8 357.5,839.4 360.3,839.0 363.2,838.4 366.0,837.9 368.9,837.3 371.7,836.7 374.6,836.1 377.4,835.5 380.3,834.9 383.1,834.3 386.0,833.8 388.9,833.3 391.7,832.9 394.6,832.6 397.4,832.3 400.3,832.1 403.1,832.0 406.0,832.0 408.8,832.0 411.7,832.2 414.5,832.4 417.4,832.7 420.2,833.1 423.1,833.5 425.9,834.0 428.8,834.6 431.7,835.1 434.5,835.7 437.4,836.3 440.2,836.9 443.1,837.4 445.9,838.0 448.8,838.5 451.6,838.9 454.5,839.3 457.3,839.6 460.2,839.8 463.0,840.0 465.9,840.0 468.7,840.0 471.6,839.9 474.5,839.6 477.3,839.3 480.2,839.0 483.0,838.5 485.9,838.0 488.7,837.4 491.6,836.7 494.4,836.1 497.3,835.4 500.1,834.6 503.0,833.9 505.8,833.2 508.7,832.5 511.5,831.9 514.4,831.3 517.2,830.7 520.1,830.2 523.0,829.8 525.8,829.5 528.7,829.3 531.5,829.2 534.4,829.1 537.2,829.2 540.1,829.3 542.9,829.6 545.8,829.9 548.6,830.3 551.5,830.8 554.3,831.3 557.2,831.9 560.0,832.5 562.9,833.1 565.8,833.8 568.6,834.5 571.5,835.1 574.3,835.7 577.2,836.3 580.0,836.9 582.9,837.4 585.7,837.8 588.6,838.1 591.4,838.4 594.3,838.6 597.1,838.7 600.0,838.7 602.8,838.6 605.7,838.4 608.6,838.2 611.4,837.8 614.3,837.4 617.1,837.0 620.0,836.5 622.8,835.9 625.7,835.3 628.5,834.7 631.4,834.1" fill="none" stroke="#961d1d" stroke-width="5" stroke-linejoin="round" stroke-linecap="round"/>
<g><path d="M117.8 895.4V898.0M111.8 895.4H123.8M111.8 898.0H123.8" stroke="#a87272" stroke-width="1.4" fill="none"/><path d="M117.8 890.1V903.3" stroke="#a87272" stroke-width="1.1"/><circle cx="117.8" cy="896.7" r="7.6" fill="none" stroke="#6f1616" stroke-width="2.8"/><path d="M132.1 887.5V890.1M126.1 887.5H138.1M126.1 890.1H138.1" stroke="#a87272" stroke-width="1.4" fill="none"/><path d="M132.1 882.2V895.4" stroke="#a87272" stroke-width="1.1"/><circle cx="132.1" cy="888.8" r="7.6" fill="none" stroke="#6f1616" stroke-width="2.8"/><path d="M146.3 880.5V883.1M140.3 880.5H152.3M140.3 883.1H152.3" stroke="#a87272" stroke-width="1.4" fill="none"/><path d="M146.3 875.2V888.4" stroke="#a87272" stroke-width="1.1"/><circle cx="146.3" cy="881.8" r="7.6" fill="none" stroke="#6f1616" stroke-width="2.8"/><path d="M160.6 886.1V888.7M154.6 886.1H166.6M154.6 888.7H166.6" stroke="#a87272" stroke-width="1.4" fill="none"/><path d="M160.6 880.8V894.0" stroke="#a87272" stroke-width="1.1"/><circle cx="160.6" cy="887.4" r="7.6" fill="none" stroke="#6f1616" stroke-width="2.8"/><path d="M174.9 893.8V896.4M168.9 893.8H180.9M168.9 896.4H180.9" stroke="#a87272" stroke-width="1.4" fill="none"/><path d="M174.9 888.5V901.7" stroke="#a87272" stroke-width="1.1"/><circle cx="174.9" cy="895.1" r="7.6" fill="none" stroke="#6f1616" stroke-width="2.8"/><path d="M189.1 901.5V904.1M183.1 901.5H195.1M183.1 904.1H195.1" stroke="#a87272" stroke-width="1.4" fill="none"/><path d="M189.1 896.2V909.4" stroke="#a87272" stroke-width="1.1"/><circle cx="189.1" cy="902.8" r="7.6" fill="none" stroke="#6f1616" stroke-width="2.8"/><path d="M203.4 902.0V904.6M197.4 902.0H209.4M197.4 904.6H209.4" stroke="#a87272" stroke-width="1.4" fill="none"/><path d="M203.4 896.7V909.9" stroke="#a87272" stroke-width="1.1"/><circle cx="203.4" cy="903.3" r="7.6" fill="none" stroke="#6f1616" stroke-width="2.8"/><path d="M217.7 902.0V904.6M211.7 902.0H223.7M211.7 904.6H223.7" stroke="#a87272" stroke-width="1.4" fill="none"/><path d="M217.7 896.7V909.9" stroke="#a87272" stroke-width="1.1"/><circle cx="217.7" cy="903.3" r="7.6" fill="none" stroke="#6f1616" stroke-width="2.8"/><path d="M231.9 896.1V898.7M225.9 896.1H237.9M225.9 898.7H237.9" stroke="#a87272" stroke-width="1.4" fill="none"/><path d="M231.9 890.8V904.0" stroke="#a87272" stroke-width="1.1"/><circle cx="231.9" cy="897.4" r="7.6" fill="none" stroke="#6f1616" stroke-width="2.8"/><path d="M246.2 892.1V894.7M240.2 892.1H252.2M240.2 894.7H252.2" stroke="#a87272" stroke-width="1.4" fill="none"/><path d="M246.2 886.8V900.0" stroke="#a87272" stroke-width="1.1"/><circle cx="246.2" cy="893.4" r="7.6" fill="none" stroke="#6f1616" stroke-width="2.8"/><path d="M260.5 888.4V891.0M254.5 888.4H266.5M254.5 891.0H266.5" stroke="#a87272" stroke-width="1.4" fill="none"/><path d="M260.5 883.1V896.3" stroke="#a87272" stroke-width="1.1"/><circle cx="260.5" cy="889.7" r="7.6" fill="none" stroke="#6f1616" stroke-width="2.8"/><path d="M274.7 887.9V890.5M268.7 887.9H280.7M268.7 890.5H280.7" stroke="#a87272" stroke-width="1.4" fill="none"/><path d="M274.7 882.6V895.8" stroke="#a87272" stroke-width="1.1"/><circle cx="274.7" cy="889.2" r="7.6" fill="none" stroke="#6f1616" stroke-width="2.8"/><path d="M289.0 884.4V887.0M283.0 884.4H295.0M283.0 887.0H295.0" stroke="#a87272" stroke-width="1.4" fill="none"/><path d="M289.0 879.1V892.3" stroke="#a87272" stroke-width="1.1"/><circle cx="289.0" cy="885.7" r="7.6" fill="none" stroke="#6f1616" stroke-width="2.8"/><path d="M303.3 896.1V898.7M297.3 896.1H309.3M297.3 898.7H309.3" stroke="#a87272" stroke-width="1.4" fill="none"/><path d="M303.3 890.8V904.0" stroke="#a87272" stroke-width="1.1"/><circle cx="303.3" cy="897.4" r="7.6" fill="none" stroke="#6f1616" stroke-width="2.8"/><path d="M317.5 904.3V906.9M311.5 904.3H323.5M311.5 906.9H323.5" stroke="#a87272" stroke-width="1.4" fill="none"/><path d="M317.5 899.0V912.2" stroke="#a87272" stroke-width="1.1"/><circle cx="317.5" cy="905.6" r="7.6" fill="none" stroke="#6f1616" stroke-width="2.8"/><path d="M331.8 910.1V912.7M325.8 910.1H337.8M325.8 912.7H337.8" stroke="#a87272" stroke-width="1.4" fill="none"/><path d="M331.8 904.8V918.0" stroke="#a87272" stroke-width="1.1"/><circle cx="331.8" cy="911.4" r="7.6" fill="none" stroke="#6f1616" stroke-width="2.8"/><path d="M346.1 909.1V911.7M340.1 909.1H352.1M340.1 911.7H352.1" stroke="#a87272" stroke-width="1.4" fill="none"/><path d="M346.1 903.8V917.0" stroke="#a87272" stroke-width="1.1"/><circle cx="346.1" cy="910.4" r="7.6" fill="none" stroke="#6f1616" stroke-width="2.8"/><path d="M360.3 901.5V904.1M354.3 901.5H366.3M354.3 904.1H366.3" stroke="#a87272" stroke-width="1.4" fill="none"/><path d="M360.3 896.2V909.4" stroke="#a87272" stroke-width="1.1"/><circle cx="360.3" cy="902.8" r="7.6" fill="none" stroke="#6f1616" stroke-width="2.8"/><path d="M374.6 891.4V894.0M368.6 891.4H380.6M368.6 894.0H380.6" stroke="#a87272" stroke-width="1.4" fill="none"/><path d="M374.6 886.1V899.3" stroke="#a87272" stroke-width="1.1"/><circle cx="374.6" cy="892.7" r="7.6" fill="none" stroke="#6f1616" stroke-width="2.8"/><path d="M388.9 881.8V884.4M382.9 881.8H394.9M382.9 884.4H394.9" stroke="#a87272" stroke-width="1.4" fill="none"/><path d="M388.9 876.5V889.7" stroke="#a87272" stroke-width="1.1"/><circle cx="388.9" cy="883.1" r="7.6" fill="none" stroke="#6f1616" stroke-width="2.8"/><path d="M403.1 877.7V880.3M397.1 877.7H409.1M397.1 880.3H409.1" stroke="#a87272" stroke-width="1.4" fill="none"/><path d="M403.1 872.4V885.6" stroke="#a87272" stroke-width="1.1"/><circle cx="403.1" cy="879.0" r="7.6" fill="none" stroke="#6f1616" stroke-width="2.8"/><path d="M417.4 879.8V882.4M411.4 879.8H423.4M411.4 882.4H423.4" stroke="#a87272" stroke-width="1.4" fill="none"/><path d="M417.4 874.5V887.7" stroke="#a87272" stroke-width="1.1"/><circle cx="417.4" cy="881.1" r="7.6" fill="none" stroke="#6f1616" stroke-width="2.8"/><path d="M431.7 889.1V891.7M425.7 889.1H437.7M425.7 891.7H437.7" stroke="#a87272" stroke-width="1.4" fill="none"/><path d="M431.7 883.8V897.0" stroke="#a87272" stroke-width="1.1"/><circle cx="431.7" cy="890.4" r="7.6" fill="none" stroke="#6f1616" stroke-width="2.8"/><path d="M445.9 895.7V898.3M439.9 895.7H451.9M439.9 898.3H451.9" stroke="#a87272" stroke-width="1.4" fill="none"/><path d="M445.9 890.4V903.6" stroke="#a87272" stroke-width="1.1"/><circle cx="445.9" cy="897.0" r="7.6" fill="none" stroke="#6f1616" stroke-width="2.8"/><path d="M460.2 898.5V901.1M454.2 898.5H466.2M454.2 901.1H466.2" stroke="#a87272" stroke-width="1.4" fill="none"/><path d="M460.2 893.2V906.4" stroke="#a87272" stroke-width="1.1"/><circle cx="460.2" cy="899.8" r="7.6" fill="none" stroke="#6f1616" stroke-width="2.8"/><path d="M474.5 893.9V896.5M468.5 893.9H480.5M468.5 896.5H480.5" stroke="#a87272" stroke-width="1.4" fill="none"/><path d="M474.5 888.6V901.8" stroke="#a87272" stroke-width="1.1"/><circle cx="474.5" cy="895.2" r="7.6" fill="none" stroke="#6f1616" stroke-width="2.8"/><path d="M488.7 890.3V892.9M482.7 890.3H494.7M482.7 892.9H494.7" stroke="#a87272" stroke-width="1.4" fill="none"/><path d="M488.7 885.0V898.2" stroke="#a87272" stroke-width="1.1"/><circle cx="488.7" cy="891.6" r="7.6" fill="none" stroke="#6f1616" stroke-width="2.8"/><path d="M503.0 890.3V892.9M497.0 890.3H509.0M497.0 892.9H509.0" stroke="#a87272" stroke-width="1.4" fill="none"/><path d="M503.0 885.0V898.2" stroke="#a87272" stroke-width="1.1"/><circle cx="503.0" cy="891.6" r="7.6" fill="none" stroke="#6f1616" stroke-width="2.8"/><path d="M517.2 884.2V886.8M511.2 884.2H523.2M511.2 886.8H523.2" stroke="#a87272" stroke-width="1.4" fill="none"/><path d="M517.2 878.9V892.1" stroke="#a87272" stroke-width="1.1"/><circle cx="517.2" cy="885.5" r="7.6" fill="none" stroke="#6f1616" stroke-width="2.8"/><path d="M531.5 883.2V885.8M525.5 883.2H537.5M525.5 885.8H537.5" stroke="#a87272" stroke-width="1.4" fill="none"/><path d="M531.5 877.9V891.1" stroke="#a87272" stroke-width="1.1"/><circle cx="531.5" cy="884.5" r="7.6" fill="none" stroke="#6f1616" stroke-width="2.8"/><path d="M545.8 890.3V892.9M539.8 890.3H551.8M539.8 892.9H551.8" stroke="#a87272" stroke-width="1.4" fill="none"/><path d="M545.8 885.0V898.2" stroke="#a87272" stroke-width="1.1"/><circle cx="545.8" cy="891.6" r="7.6" fill="none" stroke="#6f1616" stroke-width="2.8"/><path d="M560.0 893.9V896.5M554.0 893.9H566.0M554.0 896.5H566.0" stroke="#a87272" stroke-width="1.4" fill="none"/><path d="M560.0 888.6V901.8" stroke="#a87272" stroke-width="1.1"/><circle cx="560.0" cy="895.2" r="7.6" fill="none" stroke="#6f1616" stroke-width="2.8"/><path d="M574.3 902.8V905.4M568.3 902.8H580.3M568.3 905.4H580.3" stroke="#a87272" stroke-width="1.4" fill="none"/><path d="M574.3 897.5V910.7" stroke="#a87272" stroke-width="1.1"/><circle cx="574.3" cy="904.1" r="7.6" fill="none" stroke="#6f1616" stroke-width="2.8"/><path d="M588.6 908.2V910.8M582.6 908.2H594.6M582.6 910.8H594.6" stroke="#a87272" stroke-width="1.4" fill="none"/><path d="M588.6 902.9V916.1" stroke="#a87272" stroke-width="1.1"/><circle cx="588.6" cy="909.5" r="7.6" fill="none" stroke="#6f1616" stroke-width="2.8"/><path d="M602.8 908.2V910.8M596.8 908.2H608.8M596.8 910.8H608.8" stroke="#a87272" stroke-width="1.4" fill="none"/><path d="M602.8 902.9V916.1" stroke="#a87272" stroke-width="1.1"/><circle cx="602.8" cy="909.5" r="7.6" fill="none" stroke="#6f1616" stroke-width="2.8"/><path d="M617.1 901.1V903.7M611.1 901.1H623.1M611.1 903.7H623.1" stroke="#a87272" stroke-width="1.4" fill="none"/><path d="M617.1 895.8V909.0" stroke="#a87272" stroke-width="1.1"/><circle cx="617.1" cy="902.4" r="7.6" fill="none" stroke="#6f1616" stroke-width="2.8"/><path d="M631.4 895.7V898.3M625.4 895.7H637.4M625.4 898.3H637.4" stroke="#a87272" stroke-width="1.4" fill="none"/><path d="M631.4 890.4V903.6" stroke="#a87272" stroke-width="1.1"/><circle cx="631.4" cy="897.0" r="7.6" fill="none" stroke="#6f1616" stroke-width="2.8"/></g>
<polyline points="117.8,898.2 120.7,896.3 123.5,894.5 126.4,892.9 129.2,891.3 132.1,890.0 134.9,888.8 137.8,887.8 140.6,887.0 143.5,886.4 146.3,886.0 149.2,885.9 152.0,886.0 154.9,886.3 157.7,886.9 160.6,887.6 163.5,888.5 166.3,889.5 169.2,890.7 172.0,892.0 174.9,893.3 177.7,894.7 180.6,896.1 183.4,897.5 186.3,898.9 189.1,900.1 192.0,901.3 194.8,902.3 197.7,903.2 200.5,904.0 203.4,904.5 206.2,904.9 209.1,905.1 212.0,905.1 214.8,904.8 217.7,904.4 220.5,903.8 223.4,903.1 226.2,902.2 229.1,901.1 231.9,900.0 234.8,898.7 237.6,897.5 240.5,896.2 243.3,894.9 246.2,893.6 249.0,892.4 251.9,891.3 254.8,890.3 257.6,889.4 260.5,888.7 263.3,888.2 266.2,887.8 269.0,887.7 271.9,887.8 274.7,888.1 277.6,888.6 280.4,889.3 283.3,890.2 286.1,891.3 289.0,892.6 291.8,894.0 294.7,895.5 297.6,897.1 300.4,898.8 303.3,900.5 306.1,902.2 309.0,903.9 311.8,905.5 314.7,907.1 317.5,908.5 320.4,909.8 323.2,910.9 326.1,911.8 328.9,912.5 331.8,912.9 334.6,913.2 337.5,913.2 340.3,912.9 343.2,912.4 346.1,911.7 348.9,910.7 351.8,909.6 354.6,908.3 357.5,906.8 360.3,905.1 363.2,903.4 366.0,901.5 368.9,899.6 371.7,897.7 374.6,895.8 377.4,894.0 380.3,892.2 383.1,890.5 386.0,889.0 388.9,887.6 391.7,886.4 394.6,885.4 397.4,884.6 400.3,884.1 403.1,883.7 406.0,883.6 408.8,883.7 411.7,884.0 414.5,884.5 417.4,885.3 420.2,886.2 423.1,887.2 425.9,888.4 428.8,889.6 431.7,891.0 434.5,892.4 437.4,893.8 440.2,895.2 443.1,896.5 445.9,897.8 448.8,899.0 451.6,900.0 454.5,900.9 457.3,901.6 460.2,902.2 463.0,902.6 465.9,902.7 468.7,902.7 471.6,902.5 474.5,902.1 477.3,901.5 480.2,900.7 483.0,899.8 485.9,898.8 488.7,897.6 491.6,896.4 494.4,895.1 497.3,893.8 500.1,892.5 503.0,891.2 505.8,890.0 508.7,888.9 511.5,887.9 514.4,887.1 517.2,886.3 520.1,885.8 523.0,885.5 525.8,885.4 528.7,885.4 531.5,885.7 534.4,886.3 537.2,887.0 540.1,887.9 542.9,889.0 545.8,890.2 548.6,891.6 551.5,893.2 554.3,894.8 557.2,896.4 560.0,898.2 562.9,899.9 565.8,901.6 568.6,903.2 571.5,904.7 574.3,906.1 577.2,907.4 580.0,908.5 582.9,909.4 585.7,910.1 588.6,910.6 591.4,910.8 594.3,910.8 597.1,910.6 600.0,910.1 602.8,909.4 605.7,908.4 608.6,907.3 611.4,905.9 614.3,904.4 617.1,902.8 620.0,901.0 622.8,899.2 625.7,897.3 628.5,895.4 631.4,893.5" fill="none" stroke="#6f1616" stroke-width="5" stroke-linejoin="round" stroke-linecap="round"/>
<line x1="182" y1="107.5" x2="182" y2="958.5" stroke="#585858" stroke-width="1.8" stroke-dasharray="5,4.3" stroke-dashoffset="0.5"/>
<line x1="310.39" y1="107.5" x2="310.39" y2="958.5" stroke="#585858" stroke-width="1.8" stroke-dasharray="5,4.3" stroke-dashoffset="0.5"/>
<line x1="438.79" y1="107.5" x2="438.79" y2="958.5" stroke="#585858" stroke-width="1.8" stroke-dasharray="5,4.3" stroke-dashoffset="0.5"/>
<line x1="567.18" y1="107.5" x2="567.18" y2="958.5" stroke="#585858" stroke-width="1.8" stroke-dasharray="5,4.3" stroke-dashoffset="0.5"/>
<rect x="110.8" y="107.5" width="527.7" height="851.0" fill="none" stroke="#000" stroke-width="2.2"/>
<path d="M95.8 107.5H110.8M102.8 148.0H110.8M95.8 188.5H110.8M102.8 229.0H110.8M95.8 269.5H110.8M102.8 310.0H110.8M95.8 350.5H110.8M102.8 391.0H110.8M95.8 431.5H110.8M102.8 472.0H110.8M95.8 512.5H110.8M102.8 553.0H110.8M95.8 593.5H110.8M102.8 634.0H110.8M95.8 674.5H110.8M102.8 715.0H110.8M95.8 755.5H110.8M102.8 796.0H110.8M95.8 836.5H110.8M102.8 877.0H110.8M95.8 917.5H110.8M102.8 958.0H110.8M117.8 958.5V973.5M153.5 958.5V966.0M189.1 958.5V973.5M224.8 958.5V966.0M260.5 958.5V973.5M296.1 958.5V966.0M331.8 958.5V973.5M367.5 958.5V966.0M403.1 958.5V973.5M438.8 958.5V966.0M474.5 958.5V973.5M510.1 958.5V966.0M545.8 958.5V973.5M581.4 958.5V966.0M617.1 958.5V973.5" stroke="#000" stroke-width="2.2" fill="none"/>
<g transform="translate(46.79,115.60)"><path d="M763 0H583V1147C540 1106 483 1065 412 1023C341 981 278 950 223 930V1104C324 1151 411 1209 487 1276C562 1343 616 1408 647 1472H763Z" fill="#000" transform="translate(0.00,0) scale(0.01328,-0.01328)"/><text x="15.13" y="0" font-family="Liberation Sans, sans-serif" font-size="27.2" fill="#000" style="font-kerning:none">.</text><path d="M763 0H583V1147C540 1106 483 1065 412 1023C341 981 278 950 223 930V1104C324 1151 411 1209 487 1276C562 1343 616 1408 647 1472H763Z" fill="#000" transform="translate(22.68,0) scale(0.01328,-0.01328)"/></g>
<g transform="translate(46.79,196.60)"><path d="M763 0H583V1147C540 1106 483 1065 412 1023C341 981 278 950 223 930V1104C324 1151 411 1209 487 1276C562 1343 616 1408 647 1472H763Z" fill="#000" transform="translate(0.00,0) scale(0.01328,-0.01328)"/><text x="15.13" y="0" font-family="Liberation Sans, sans-serif" font-size="27.2" fill="#000" style="font-kerning:none">.0</text></g>
<g transform="translate(46.79,277.60)"><text x="0.00" y="0" font-family="Liberation Sans, sans-serif" font-size="27.2" fill="#000" style="font-kerning:none">0.9</text></g>
<g transform="translate(46.79,358.60)"><text x="0.00" y="0" font-family="Liberation Sans, sans-serif" font-size="27.2" fill="#000" style="font-kerning:none">0.8</text></g>
<g transform="translate(46.79,439.60)"><text x="0.00" y="0" font-family="Liberation Sans, sans-serif" font-size="27.2" fill="#000" style="font-kerning:none">0.7</text></g>
<g transform="translate(46.79,520.60)"><text x="0.00" y="0" font-family="Liberation Sans, sans-serif" font-size="27.2" fill="#000" style="font-kerning:none">0.6</text></g>
<g transform="translate(46.79,601.60)"><text x="0.00" y="0" font-family="Liberation Sans, sans-serif" font-size="27.2" fill="#000" style="font-kerning:none">0.5</text></g>
<g transform="translate(46.79,682.60)"><text x="0.00" y="0" font-family="Liberation Sans, sans-serif" font-size="27.2" fill="#000" style="font-kerning:none">0.4</text></g>
<g transform="translate(46.79,763.60)"><text x="0.00" y="0" font-family="Liberation Sans, sans-serif" font-size="27.2" fill="#000" style="font-kerning:none">0.3</text></g>
<g transform="translate(46.79,844.60)"><text x="0.00" y="0" font-family="Liberation Sans, sans-serif" font-size="27.2" fill="#000" style="font-kerning:none">0.2</text></g>
<g transform="translate(46.79,925.60)"><text x="0.00" y="0" font-family="Liberation Sans, sans-serif" font-size="27.2" fill="#000" style="font-kerning:none">0.</text><path d="M763 0H583V1147C540 1106 483 1065 412 1023C341 981 278 950 223 930V1104C324 1151 411 1209 487 1276C562 1343 616 1408 647 1472H763Z" fill="#000" transform="translate(22.68,0) scale(0.01328,-0.01328)"/></g>
<g transform="translate(110.24,1004.00)"><text x="0.00" y="0" font-family="Liberation Sans, sans-serif" font-size="27.2" fill="#000" style="font-kerning:none">0</text></g>
<g transform="translate(174.00,1004.00)"><text x="0.00" y="0" font-family="Liberation Sans, sans-serif" font-size="27.2" fill="#000" style="font-kerning:none">50</text></g>
<g transform="translate(237.77,1004.00)"><path d="M763 0H583V1147C540 1106 483 1065 412 1023C341 981 278 950 223 930V1104C324 1151 411 1209 487 1276C562 1343 616 1408 647 1472H763Z" fill="#000" transform="translate(0.00,0) scale(0.01328,-0.01328)"/><text x="15.13" y="0" font-family="Liberation Sans, sans-serif" font-size="27.2" fill="#000" style="font-kerning:none">00</text></g>
<g transform="translate(309.10,1004.00)"><path d="M763 0H583V1147C540 1106 483 1065 412 1023C341 981 278 950 223 930V1104C324 1151 411 1209 487 1276C562 1343 616 1408 647 1472H763Z" fill="#000" transform="translate(0.00,0) scale(0.01328,-0.01328)"/><text x="15.13" y="0" font-family="Liberation Sans, sans-serif" font-size="27.2" fill="#000" style="font-kerning:none">50</text></g>
<g transform="translate(380.43,1004.00)"><text x="0.00" y="0" font-family="Liberation Sans, sans-serif" font-size="27.2" fill="#000" style="font-kerning:none">200</text></g>
<g transform="translate(451.76,1004.00)"><text x="0.00" y="0" font-family="Liberation Sans, sans-serif" font-size="27.2" fill="#000" style="font-kerning:none">250</text></g>
<g transform="translate(523.09,1004.00)"><text x="0.00" y="0" font-family="Liberation Sans, sans-serif" font-size="27.2" fill="#000" style="font-kerning:none">300</text></g>
<g transform="translate(594.42,1004.00)"><text x="0.00" y="0" font-family="Liberation Sans, sans-serif" font-size="27.2" fill="#000" style="font-kerning:none">350</text></g>
<text transform="translate(315.00,1057.20) scale(1.0161,1)" font-family="Liberation Sans, sans-serif" font-size="30.5" fill="#000">Angle (°)</text>
<text transform="translate(23.8,579.2) rotate(-90) scale(0.965,1)" font-family="Liberation Sans, sans-serif" font-size="30.5"><tspan font-style="italic">I</tspan><tspan font-size="21.5" dy="8.6">pc</tspan><tspan dy="-8.6"> (nA)</tspan></text>
<g transform="translate(553.72,159.50) scale(0.975,1)"><path d="M763 0H583V1147C540 1106 483 1065 412 1023C341 981 278 950 223 930V1104C324 1151 411 1209 487 1276C562 1343 616 1408 647 1472H763Z" fill="#000" transform="translate(0.00,0) scale(0.01050,-0.01050)"/><text x="11.96" y="0" font-family="Liberation Sans, sans-serif" font-size="21.5" fill="#000" style="font-kerning:none">400 nm</text></g>
<g transform="translate(553.72,230.20) scale(0.975,1)"><path d="M763 0H583V1147C540 1106 483 1065 412 1023C341 981 278 950 223 930V1104C324 1151 411 1209 487 1276C562 1343 616 1408 647 1472H763Z" fill="#000" transform="translate(0.00,0) scale(0.01050,-0.01050)"/><text x="11.96" y="0" font-family="Liberation Sans, sans-serif" font-size="21.5" fill="#000" style="font-kerning:none">300 nm</text></g>
<g transform="translate(553.72,355.70) scale(0.975,1)"><path d="M763 0H583V1147C540 1106 483 1065 412 1023C341 981 278 950 223 930V1104C324 1151 411 1209 487 1276C562 1343 616 1408 647 1472H763Z" fill="#000" transform="translate(0.00,0) scale(0.01050,-0.01050)"/><text x="11.96" y="0" font-family="Liberation Sans, sans-serif" font-size="21.5" fill="#000" style="font-kerning:none">200 nm</text></g>
<g transform="translate(553.72,495.80) scale(0.975,1)"><path d="M763 0H583V1147C540 1106 483 1065 412 1023C341 981 278 950 223 930V1104C324 1151 411 1209 487 1276C562 1343 616 1408 647 1472H763Z" fill="#000" transform="translate(0.00,0) scale(0.01050,-0.01050)"/><path d="M763 0H583V1147C540 1106 483 1065 412 1023C341 981 278 950 223 930V1104C324 1151 411 1209 487 1276C562 1343 616 1408 647 1472H763Z" fill="#000" transform="translate(11.96,0) scale(0.01050,-0.01050)"/><text x="23.91" y="0" font-family="Liberation Sans, sans-serif" font-size="21.5" fill="#000" style="font-kerning:none">00 nm</text></g>
<g transform="translate(553.72,687.80) scale(0.975,1)"><path d="M763 0H583V1147C540 1106 483 1065 412 1023C341 981 278 950 223 930V1104C324 1151 411 1209 487 1276C562 1343 616 1408 647 1472H763Z" fill="#000" transform="translate(0.00,0) scale(0.01050,-0.01050)"/><text x="11.96" y="0" font-family="Liberation Sans, sans-serif" font-size="21.5" fill="#000" style="font-kerning:none">000 nm</text></g>
<g transform="translate(565.38,787.00) scale(0.975,1)"><text x="0.00" y="0" font-family="Liberation Sans, sans-serif" font-size="21.5" fill="#000" style="font-kerning:none">900 nm</text></g>
<g transform="translate(565.38,871.70) scale(0.975,1)"><text x="0.00" y="0" font-family="Liberation Sans, sans-serif" font-size="21.5" fill="#000" style="font-kerning:none">800 nm</text></g>
<g transform="translate(565.38,940.20) scale(0.975,1)"><text x="0.00" y="0" font-family="Liberation Sans, sans-serif" font-size="21.5" fill="#000" style="font-kerning:none">700 nm</text></g>
<path d="M171.45 98.58A17.3 17.3 0 1 1 200.13 88.11M192.7 80.8L200.1 88.4L207.5 80.8" fill="none" stroke="#000" stroke-width="3" stroke-linecap="round" stroke-linejoin="round"/>
<path d="M328.05 98.58A17.3 17.3 0 1 0 299.37 88.11M306.8 80.8L299.4 88.4L292.0 80.8" fill="none" stroke="#000" stroke-width="3" stroke-linecap="round" stroke-linejoin="round"/>
<path d="M423.65 98.58A17.3 17.3 0 1 1 452.33 88.11M444.9 80.8L452.3 88.4L459.7 80.8" fill="none" stroke="#000" stroke-width="3" stroke-linecap="round" stroke-linejoin="round"/>
<path d="M579.55 98.58A17.3 17.3 0 1 0 550.87 88.11M558.3 80.8L550.9 88.4L543.5 80.8" fill="none" stroke="#000" stroke-width="3" stroke-linecap="round" stroke-linejoin="round"/>
<text transform="translate(519.69,50.70) scale(1.0325,1)" font-family="Liberation Sans, sans-serif" font-size="29.6" fill="#000">Wavelength</text>
<text transform="translate(2.27,20.80) scale(0.8770,1)" font-family="Liberation Sans, sans-serif" font-size="35.5" font-weight="bold" fill="#000">a</text>
<text transform="translate(1.89,1126.60) scale(1.0424,1)" font-family="Liberation Sans, sans-serif" font-size="33" font-weight="bold" fill="#000">b</text>
<polyline points="111.1,1409.4 114.1,1410.4 118.0,1411.7 122.8,1413.3 128.0,1415.1 133.6,1417.0 139.2,1419.0 144.8,1421.0 150.0,1423.0 155.0,1425.0 160.1,1427.2 165.3,1429.4 170.4,1431.7 175.6,1434.1 180.8,1436.4 185.9,1438.9 190.9,1441.3 195.9,1443.8 200.8,1446.3 205.7,1448.8 210.6,1451.4 215.5,1454.0 220.3,1456.7 225.2,1459.3 230.0,1462.0 234.8,1464.7 239.6,1467.5 244.3,1470.3 249.1,1473.1 253.9,1475.9 258.7,1478.7 263.5,1481.5 268.5,1484.3 273.6,1487.1 278.8,1489.9 284.1,1492.8 289.5,1495.6 294.8,1498.4 300.0,1501.1 305.1,1503.7 310.0,1506.2 314.8,1508.6 319.5,1510.9 324.1,1513.2 328.6,1515.4 333.0,1517.5 337.2,1519.5 341.2,1521.3 345.0,1523.0 348.4,1524.5 351.4,1525.7 354.1,1526.8 356.7,1527.7 359.3,1528.6 362.0,1529.6 365.0,1530.6 368.4,1531.7 372.2,1533.0 376.3,1534.4 380.6,1535.8 385.1,1537.2 389.6,1538.7 394.3,1540.1 398.9,1541.4 403.4,1542.7 407.9,1543.8 412.3,1544.9 416.7,1545.9 421.2,1546.9 425.8,1547.8 430.4,1548.8 435.1,1549.9 440.0,1551.0 445.0,1552.2 450.0,1553.6 455.2,1555.0 460.4,1556.4 465.7,1557.8 471.2,1559.2 476.8,1560.6 482.6,1561.9 488.9,1563.2 496.0,1564.6 503.4,1565.9 510.9,1567.3 518.0,1568.5 524.4,1569.6 529.8,1570.6 533.8,1571.3" fill="none" stroke="#8a8a8a" stroke-width="1.75"/>
<polyline points="110.8,1469.0 112.2,1471.3 114.0,1474.5 116.3,1478.3 118.7,1482.4 121.3,1486.8 123.8,1491.0 126.3,1495.0 128.4,1498.5 130.3,1501.6 132.2,1504.5 133.9,1507.2 135.6,1509.8 137.3,1512.3 139.0,1514.8 140.7,1517.2 142.4,1519.6 144.1,1522.0 145.8,1524.3 147.4,1526.5 149.1,1528.6 150.8,1530.8 152.6,1532.9 154.4,1535.0 156.4,1537.1 158.5,1539.2 160.7,1541.4 163.0,1543.5 165.3,1545.6 167.7,1547.7 170.2,1549.7 172.6,1551.6 175.1,1553.5 177.7,1555.3 180.4,1557.1 183.1,1558.9 185.9,1560.6 188.6,1562.3 191.3,1563.8 193.8,1565.1 196.1,1566.3 198.2,1567.3 200.1,1568.1 201.9,1568.7 203.5,1569.2 205.2,1569.7 206.8,1570.1 208.4,1570.5 210.1,1571.0 211.9,1571.5 213.8,1572.0 215.7,1572.5 217.5,1573.0 219.4,1573.4 221.1,1573.8 222.7,1574.2 224.2,1574.5 225.5,1574.8 226.8,1575.0 227.9,1575.1 229.0,1575.3 229.9,1575.4 230.7,1575.5 231.4,1575.5 232.0,1575.6" fill="none" stroke="#8a8a8a" stroke-width="1.75"/>
<polyline points="238.1,1565.3 239.3,1565.0 240.8,1564.7 242.6,1564.3 244.7,1563.9 246.9,1563.4 249.3,1562.8 251.7,1562.2 254.2,1561.6 256.8,1560.9 259.6,1560.2 262.6,1559.4 265.6,1558.5 268.7,1557.7 271.8,1556.8 274.8,1555.9 277.6,1555.0 280.4,1554.1 283.1,1553.2 285.8,1552.2 288.5,1551.2 291.1,1550.3 293.6,1549.3 295.9,1548.4 298.0,1547.5 299.9,1546.7 301.5,1545.9 303.0,1545.1 304.4,1544.4 305.7,1543.6 307.0,1542.9 308.4,1542.1 310.0,1541.2 311.7,1540.3 313.3,1539.4 315.0,1538.5 316.8,1537.5 318.6,1536.5 320.5,1535.5 322.5,1534.4 324.6,1533.2 326.9,1532.0 329.2,1530.7 331.7,1529.4 334.2,1528.0 336.9,1526.6 339.6,1525.2 342.3,1523.7 345.0,1522.2 347.8,1520.6 350.7,1519.0 353.7,1517.3 356.8,1515.5 359.8,1513.8 362.8,1512.1 365.7,1510.5 368.4,1509.1 371.0,1507.8 373.5,1506.5 376.0,1505.3 378.4,1504.1 380.7,1503.0 383.0,1502.0 385.2,1501.1 387.4,1500.3 389.5,1499.6 391.6,1498.9 393.5,1498.3 395.5,1497.8 397.4,1497.4 399.3,1497.0 401.3,1496.8 403.4,1496.7 405.6,1496.7 407.8,1496.7 410.0,1496.9 412.3,1497.1 414.6,1497.5 416.9,1497.9 419.2,1498.5 421.5,1499.2 423.8,1500.0 426.1,1501.0 428.4,1502.1 430.7,1503.3 433.1,1504.6 435.4,1505.9 437.8,1507.3 440.2,1508.6 442.7,1510.0 445.3,1511.5 448.0,1513.0 450.6,1514.6 453.2,1516.1 455.7,1517.6 458.0,1519.0 460.0,1520.2 461.6,1521.2 462.9,1522.0 463.9,1522.6 464.8,1523.2 465.8,1523.8 466.9,1524.5 468.3,1525.3 470.1,1526.4 472.3,1527.7 474.7,1529.1 477.2,1530.6 480.0,1532.3 483.0,1534.0 486.3,1535.7 489.7,1537.5 493.4,1539.3 497.7,1541.2 502.7,1543.4 508.1,1545.7 513.6,1548.0 519.0,1550.1 523.8,1552.1 527.9,1553.8 530.9,1555.0" fill="none" stroke="#8a8a8a" stroke-width="1.75"/>
<polyline points="110.8,1561.6 112.1,1561.0 113.8,1560.3 115.9,1559.4 118.1,1558.4 120.6,1557.2 123.2,1556.1 125.8,1554.8 128.4,1553.5 131.0,1552.1 133.8,1550.7 136.7,1549.2 139.7,1547.6 142.7,1545.9 145.7,1544.2 148.7,1542.4 151.7,1540.6 154.7,1538.7 157.7,1536.6 160.7,1534.4 163.7,1532.2 166.7,1530.1 169.6,1528.0 172.4,1526.0 175.1,1524.3 177.7,1522.7 180.3,1521.3 182.9,1519.9 185.3,1518.7 187.7,1517.6 189.9,1516.5 191.9,1515.7 193.8,1514.9 195.4,1514.3 196.7,1513.9 197.9,1513.6 198.9,1513.4 199.8,1513.3 200.8,1513.3 201.9,1513.3 203.1,1513.3 204.4,1513.3 205.8,1513.3 207.2,1513.4 208.7,1513.6 210.1,1513.8 211.7,1514.0 213.2,1514.4 214.8,1514.9 216.4,1515.5 218.1,1516.1 219.8,1516.9 221.5,1517.7 223.3,1518.6 225.1,1519.6 226.9,1520.7 228.8,1521.9 230.7,1523.2 232.7,1524.7 234.6,1526.3 236.6,1527.9 238.7,1529.6 240.8,1531.4 243.0,1533.1 245.2,1534.8 247.6,1536.6 250.1,1538.4 252.7,1540.3 255.3,1542.2 258.0,1544.1 260.5,1545.8 262.8,1547.4 265.0,1548.8 266.9,1549.9 268.5,1550.8 269.9,1551.6 271.3,1552.2 272.6,1552.8 274.1,1553.5 275.7,1554.2 277.6,1555.0 279.7,1556.0 282.0,1557.1 284.4,1558.2 286.9,1559.4 289.5,1560.5 292.3,1561.7 295.1,1562.8 298.0,1563.8 301.1,1564.8 304.5,1565.7 307.9,1566.6 311.5,1567.4 315.1,1568.2 318.6,1569.0 321.9,1569.7 325.0,1570.4 327.9,1571.0 330.6,1571.5 333.1,1572.0 335.6,1572.5 338.0,1572.9 340.4,1573.2 342.7,1573.6 345.0,1573.9 347.4,1574.2 349.9,1574.4 352.3,1574.6 354.8,1574.8 357.0,1575.0 359.0,1575.1 360.7,1575.2 362.0,1575.3" fill="none" stroke="#8a8a8a" stroke-width="1.75"/>
<polyline points="110.8,1256.6 112.4,1256.1 113.9,1261.0 115.5,1263.0 117.5,1267.7 119.4,1272.6 121.4,1276.0 123.2,1279.6 124.9,1281.4 126.7,1286.7 128.4,1286.9 130.2,1288.8 131.9,1291.2 133.7,1293.3 135.4,1295.4 136.9,1300.1 138.5,1305.0 140.0,1308.7 141.8,1311.0 143.5,1311.7 145.2,1313.3 147.0,1315.8 148.8,1316.6 150.6,1317.3 152.3,1319.0 154.1,1321.0 155.8,1323.4 157.6,1323.3 159.3,1324.8 161.1,1327.1 162.6,1325.8 164.2,1326.2 165.7,1327.0 167.3,1329.1 168.8,1331.1 170.4,1333.9 172.0,1333.8 173.5,1338.8 175.1,1339.7 176.6,1336.5 178.2,1335.2 179.7,1332.8 181.7,1330.4 183.6,1328.4 185.6,1327.6 187.2,1328.3 188.7,1330.1 190.3,1330.4 192.6,1326.5 194.3,1334.2 196.1,1340.3 197.8,1336.9 199.6,1335.0 201.2,1334.6 202.7,1333.6 204.3,1332.9 205.9,1334.2 207.4,1332.9 209.0,1335.8 210.5,1337.3 212.1,1337.6 213.6,1340.4 215.3,1343.3 217.1,1348.0 218.8,1353.1 220.6,1360.9 222.3,1366.6 224.1,1371.6 225.7,1371.6 227.2,1375.1 228.8,1378.0 230.4,1378.9 231.9,1382.0 233.5,1381.7 235.2,1386.2 237.0,1388.8 238.6,1393.6 240.1,1395.7 241.7,1398.5 243.4,1400.5 245.2,1405.9 246.7,1404.1 248.3,1402.9 249.8,1402.0 251.4,1402.2 252.9,1402.3 254.5,1402.9 256.1,1404.5 257.6,1407.6 259.2,1407.2 260.9,1408.4 262.6,1409.3 264.3,1410.4 266.1,1412.4 267.9,1412.8 269.6,1414.2 271.4,1417.2 272.9,1419.6 274.5,1420.8 276.0,1422.0 277.6,1423.2 279.1,1425.2 280.7,1426.3 282.2,1427.7 283.8,1427.1 285.4,1428.3 286.9,1428.8 288.4,1429.8 290.0,1430.1 291.7,1431.7 293.3,1431.9 295.0,1432.5 296.7,1431.5 298.4,1432.8 300.0,1433.3 301.7,1434.4 303.3,1433.6 304.8,1435.7 306.4,1436.1 308.0,1435.5 309.5,1436.1 311.1,1436.6 312.7,1437.2 314.2,1437.7 315.8,1438.6 317.3,1437.8 318.9,1438.4 320.4,1438.3 322.0,1439.3 323.5,1439.0 325.1,1439.5 326.8,1438.6 328.4,1439.2 330.1,1439.0 331.8,1440.3 333.5,1440.1 335.1,1439.8 336.8,1439.9 338.5,1440.5 340.1,1440.1 341.8,1440.2 343.4,1441.0 345.1,1442.1 346.7,1441.0 348.4,1441.0 350.1,1441.0 351.7,1441.2 353.4,1442.2 355.1,1442.6 356.8,1442.4 358.4,1442.8 360.1,1443.0 361.8,1443.1 363.4,1442.4 365.1,1443.0 366.8,1443.4 368.5,1443.0 370.1,1443.3 371.8,1443.2 373.4,1443.9 374.9,1444.9 376.5,1444.8 378.0,1445.3 379.6,1446.2 381.1,1446.4 382.7,1447.1 384.2,1446.7 385.8,1447.8 387.4,1448.0 388.9,1448.6 390.5,1449.3 392.0,1449.9 393.6,1450.4 395.1,1450.7 396.7,1451.5 398.2,1451.6 399.8,1452.2 401.5,1453.1 403.2,1453.6 404.9,1454.9 406.6,1455.4 408.3,1456.4 410.0,1456.7 411.7,1457.4 413.4,1458.4 415.0,1459.3 416.7,1459.9 418.4,1460.9 420.1,1461.7 421.7,1462.9 423.4,1463.3 425.1,1465.1 426.7,1466.3 428.4,1467.7 430.0,1469.3 431.7,1470.7 433.3,1472.4 435.0,1474.1 436.7,1475.4 438.3,1477.0 440.0,1478.7 441.7,1480.0 443.4,1481.4 445.0,1482.8 446.7,1484.1 448.4,1486.2 450.0,1487.4 451.7,1489.5 453.4,1491.1 455.1,1493.0 456.7,1494.4 458.4,1495.9 460.1,1497.8 461.7,1499.3 463.4,1501.0 465.1,1502.7 466.8,1504.4 468.4,1506.0 470.1,1507.5 471.7,1508.6 473.2,1509.2 474.8,1510.6 476.3,1511.4 477.8,1512.8 479.4,1513.9 481.0,1513.5 482.5,1514.2 484.1,1514.4 485.7,1514.5 487.2,1515.0 488.8,1515.1 490.4,1514.8 492.1,1515.1 493.7,1515.2 495.3,1515.2 497.0,1515.0 498.6,1515.3 500.2,1515.3 501.8,1515.0 503.5,1515.1 505.1,1515.2 506.7,1515.2 508.2,1515.9 509.8,1515.7 511.3,1515.6 512.9,1515.8 514.4,1516.1 516.0,1516.7 517.5,1516.4 519.1,1516.6 520.8,1517.3 522.4,1517.7 524.1,1518.8 525.8,1518.8 527.5,1519.6 529.1,1520.1 530.8,1520.6" fill="none" stroke="#8a8a8a" stroke-width="3.3" stroke-linejoin="round"/>
<text transform="translate(119.96,1407.30) scale(0.9984,1)" font-family="Liberation Sans, sans-serif" font-size="18.3" fill="#858a86">Indirect gap</text>
<text transform="translate(119.38,1461.60) scale(0.9885,1)" font-family="Liberation Sans, sans-serif" font-size="18" fill="#858a86">K-point</text>
<text transform="translate(120.09,1482.80) scale(0.9899,1)" font-family="Liberation Sans, sans-serif" font-size="18" fill="#858a86">direct gap</text>
<text transform="translate(218.06,1509.80) scale(1.1729,1)" font-family="Liberation Sans, sans-serif" font-size="18.5" fill="#8a8a8a">B</text>
<text transform="translate(404.40,1488.30) scale(0.9828,1)" font-family="Liberation Sans, sans-serif" font-size="18.5" fill="#8a8a8a">A</text>
<path d="M191.4 1413.8V1419.2M191.4 1423.1V1428.8M152.1 1489.3L149.9 1494.6M148.5 1498.3L146.6 1503.2" stroke="#858585" stroke-width="2.2" fill="none"/>
<path d="M187.6 1430.3H195.4L191.5 1441Z M142.2 1504.2L149.7 1506.9L142.4 1515Z" fill="#858585"/>
<path d="M558.3 1528H593" stroke="#8a8a8a" stroke-width="2"/>
<path d="M590 1523.5L602 1528L590 1532.5Z" fill="#8a8a8a"/>
<mask id="mblue" maskUnits="userSpaceOnUse" x="0" y="1100" width="685" height="566"><rect x="0" y="1100" width="685" height="566" fill="#fff"/><circle cx="125.2" cy="1284.2" r="7.6" fill="#000"/><circle cx="160.7" cy="1285.8" r="7.6" fill="#000"/><circle cx="196.2" cy="1303.4" r="7.6" fill="#000"/><circle cx="231.7" cy="1329.1" r="7.6" fill="#000"/><circle cx="267.2" cy="1336.2" r="7.6" fill="#000"/><circle cx="302.7" cy="1359.6" r="7.6" fill="#000"/><circle cx="338.2" cy="1380.0" r="7.6" fill="#000"/><circle cx="409.1" cy="1543.6" r="7.6" fill="#000"/><circle cx="480.1" cy="1338.0" r="7.6" fill="#000"/><circle cx="551.1" cy="1291.5" r="7.6" fill="#000"/><circle cx="622.1" cy="1299.1" r="7.6" fill="#000"/></mask>
<polyline points="125.2,1284.2 160.7,1285.8 196.2,1303.4 231.7,1329.1 267.2,1336.2 302.7,1359.6 338.2,1380.0 409.1,1543.6 480.1,1338.0 551.1,1291.5 622.1,1299.1" fill="none" stroke="#2f5487" stroke-width="2.8" stroke-linejoin="round" mask="url(#mblue)"/>
<path d="M118.0 1281.2H132.4M118.0 1287.2H132.4M125.2 1281.2V1287.2" stroke="#2f5487" stroke-width="1.8"/>
<circle cx="125.2" cy="1284.2" r="6.2" fill="#2f5487"/>
<path d="M153.5 1282.8H167.9M153.5 1288.8H167.9M160.7 1282.8V1288.8" stroke="#2f5487" stroke-width="1.8"/>
<circle cx="160.7" cy="1285.8" r="6.2" fill="#2f5487"/>
<path d="M189.0 1302.4H203.4M189.0 1304.4H203.4M196.2 1302.4V1304.4" stroke="#2f5487" stroke-width="1.8"/>
<circle cx="196.2" cy="1303.4" r="6.2" fill="#2f5487"/>
<path d="M224.5 1324.9H238.9M224.5 1333.3H238.9M231.7 1324.9V1333.3" stroke="#2f5487" stroke-width="1.8"/>
<circle cx="231.7" cy="1329.1" r="6.2" fill="#2f5487"/>
<path d="M260.0 1333.7H274.4M260.0 1338.7H274.4M267.2 1333.7V1338.7" stroke="#2f5487" stroke-width="1.8"/>
<circle cx="267.2" cy="1336.2" r="6.2" fill="#2f5487"/>
<path d="M295.5 1356.6H309.9M295.5 1362.6H309.9M302.7 1356.6V1362.6" stroke="#2f5487" stroke-width="1.8"/>
<circle cx="302.7" cy="1359.6" r="6.2" fill="#2f5487"/>
<path d="M331.0 1377.0H345.4M331.0 1383.0H345.4M338.2 1377.0V1383.0" stroke="#2f5487" stroke-width="1.8"/>
<circle cx="338.2" cy="1380.0" r="6.2" fill="#2f5487"/>
<path d="M401.9 1539.1H416.3M401.9 1548.1H416.3M409.1 1539.1V1548.1" stroke="#2f5487" stroke-width="1.8"/>
<circle cx="409.1" cy="1543.6" r="6.2" fill="#2f5487"/>
<path d="M472.9 1333.5H487.3M472.9 1342.5H487.3M480.1 1333.5V1342.5" stroke="#2f5487" stroke-width="1.8"/>
<circle cx="480.1" cy="1338.0" r="6.2" fill="#2f5487"/>
<path d="M543.9 1290.5H558.3M543.9 1292.5H558.3M551.1 1290.5V1292.5" stroke="#2f5487" stroke-width="1.8"/>
<circle cx="551.1" cy="1291.5" r="6.2" fill="#2f5487"/>
<path d="M614.9 1298.1H629.3M614.9 1300.1H629.3M622.1 1298.1V1300.1" stroke="#2f5487" stroke-width="1.8"/>
<circle cx="622.1" cy="1299.1" r="6.2" fill="#2f5487"/>
<mask id="morng" maskUnits="userSpaceOnUse" x="0" y="1100" width="685" height="566"><rect x="0" y="1100" width="685" height="566" fill="#fff"/><circle cx="125.2" cy="1296.3" r="7.6" fill="#000"/><circle cx="160.7" cy="1297.9" r="7.6" fill="#000"/><circle cx="196.2" cy="1302.0" r="7.6" fill="#000"/><circle cx="231.7" cy="1297.2" r="7.6" fill="#000"/><circle cx="267.2" cy="1296.3" r="7.6" fill="#000"/><circle cx="302.7" cy="1289.9" r="7.6" fill="#000"/><circle cx="338.2" cy="1289.9" r="7.6" fill="#000"/><circle cx="409.1" cy="1178.1" r="7.6" fill="#000"/><circle cx="480.1" cy="1293.6" r="7.6" fill="#000"/><circle cx="551.1" cy="1325.4" r="7.6" fill="#000"/><circle cx="622.1" cy="1300.7" r="7.6" fill="#000"/></mask>
<polyline points="125.2,1296.3 160.7,1297.9 196.2,1302.0 231.7,1297.2 267.2,1296.3 302.7,1289.9 338.2,1289.9 409.1,1178.1 480.1,1293.6 551.1,1325.4 622.1,1300.7" fill="none" stroke="#e8541e" stroke-width="2.8" stroke-linejoin="round" mask="url(#morng)"/>
<path d="M118.0 1295.8H132.4M118.0 1296.8H132.4M125.2 1295.8V1296.8" stroke="#e8541e" stroke-width="1.8"/>
<circle cx="125.2" cy="1296.3" r="6.2" fill="#e8541e"/>
<path d="M153.5 1297.4H167.9M153.5 1298.4H167.9M160.7 1297.4V1298.4" stroke="#e8541e" stroke-width="1.8"/>
<circle cx="160.7" cy="1297.9" r="6.2" fill="#e8541e"/>
<path d="M189.0 1301.5H203.4M189.0 1302.5H203.4M196.2 1301.5V1302.5" stroke="#e8541e" stroke-width="1.8"/>
<circle cx="196.2" cy="1302.0" r="6.2" fill="#e8541e"/>
<path d="M224.5 1296.7H238.9M224.5 1297.7H238.9M231.7 1296.7V1297.7" stroke="#e8541e" stroke-width="1.8"/>
<circle cx="231.7" cy="1297.2" r="6.2" fill="#e8541e"/>
<path d="M260.0 1295.8H274.4M260.0 1296.8H274.4M267.2 1295.8V1296.8" stroke="#e8541e" stroke-width="1.8"/>
<circle cx="267.2" cy="1296.3" r="6.2" fill="#e8541e"/>
<path d="M295.5 1289.4H309.9M295.5 1290.4H309.9M302.7 1289.4V1290.4" stroke="#e8541e" stroke-width="1.8"/>
<circle cx="302.7" cy="1289.9" r="6.2" fill="#e8541e"/>
<path d="M331.0 1289.4H345.4M331.0 1290.4H345.4M338.2 1289.4V1290.4" stroke="#e8541e" stroke-width="1.8"/>
<circle cx="338.2" cy="1289.9" r="6.2" fill="#e8541e"/>
<path d="M401.9 1175.1H416.3M401.9 1181.1H416.3M409.1 1175.1V1181.1" stroke="#e8541e" stroke-width="1.8"/>
<circle cx="409.1" cy="1178.1" r="6.2" fill="#e8541e"/>
<path d="M472.9 1292.6H487.3M472.9 1294.6H487.3M480.1 1292.6V1294.6" stroke="#e8541e" stroke-width="1.8"/>
<circle cx="480.1" cy="1293.6" r="6.2" fill="#e8541e"/>
<path d="M543.9 1324.9H558.3M543.9 1325.9H558.3M551.1 1324.9V1325.9" stroke="#e8541e" stroke-width="1.8"/>
<circle cx="551.1" cy="1325.4" r="6.2" fill="#e8541e"/>
<path d="M614.9 1300.2H629.3M614.9 1301.2H629.3M622.1 1300.2V1301.2" stroke="#e8541e" stroke-width="1.8"/>
<circle cx="622.1" cy="1300.7" r="6.2" fill="#e8541e"/>
<g>
<rect x="122.9" y="1162.4" width="150.2" height="85.7" fill="#d9d9d9" stroke="#000" stroke-width="2.4"/>
<rect x="145.3" y="1172.8" width="105" height="63.5" fill="none" stroke="#000" stroke-width="2" stroke-dasharray="5,3"/>
<rect x="182.3" y="1160.9" width="31.7" height="20.4" fill="#f0c232" stroke="#000" stroke-width="2"/>
<rect x="182.3" y="1229.2" width="31.7" height="20.4" fill="#f0c232" stroke="#000" stroke-width="2"/>
<path d="M182.3 1172.8H214" stroke="#000" stroke-width="2" stroke-dasharray="5,3"/>
<path d="M182.3 1236.3H214" stroke="#000" stroke-width="2" stroke-dasharray="5,3"/>
<path d="M146 1205.8H239M199.4 1230.6V1185" stroke="#888" stroke-width="2.6"/>
<path d="M237.5 1200.3L249.5 1205.8L237.5 1211.3Z M193.9 1186L199.4 1174.5L204.9 1186Z" fill="#888"/>
<circle cx="199.4" cy="1205" r="2.6" fill="#999"/>
<circle cx="167.1" cy="1205.8" r="3.6" fill="#2f5487"/>
<circle cx="228" cy="1205.8" r="3.6" fill="#a02020"/>
<text x="168" y="1190" font-family="Liberation Sans, sans-serif" font-size="17" font-style="italic" fill="#888">Y</text>
<text x="254.5" y="1213.5" font-family="Liberation Sans, sans-serif" font-size="17" font-style="italic" fill="#888">X</text>
<text x="181" y="1220.8" font-family="Liberation Sans, sans-serif" font-size="16" fill="#222">O</text>
</g>
<rect x="488.7" y="1151.8" width="148.6" height="56" fill="#fff" stroke="#777" stroke-width="1.2"/>
<path d="M490.4 1166.8H537.6" stroke="#2f5487" stroke-width="2.8"/><circle cx="514" cy="1166.8" r="5.5" fill="#2f5487"/>
<path d="M490.4 1193.4H537.6" stroke="#e8541e" stroke-width="2.8"/><circle cx="514" cy="1193.4" r="5.5" fill="#e8541e"/>
<text transform="translate(542.08,1173.00) scale(0.9574,1)" font-family="Liberation Sans, sans-serif" font-size="18.8" font-style="italic" fill="#000">X</text>
<text transform="translate(554.56,1173.00) scale(1.0000,1)" font-family="Liberation Sans, sans-serif" font-size="18.8" fill="#000">=</text>
<text transform="translate(572.55,1173.00) scale(1.0000,1)" font-family="Liberation Sans, sans-serif" font-size="18.8" fill="#000">-</text>
<g transform="translate(578.55,1173.00)"><path d="M763 0H583V1147C540 1106 483 1065 412 1023C341 981 278 950 223 930V1104C324 1151 411 1209 487 1276C562 1343 616 1408 647 1472H763Z" fill="#000" transform="translate(0.00,0) scale(0.00918,-0.00918)"/><path d="M763 0H583V1147C540 1106 483 1065 412 1023C341 981 278 950 223 930V1104C324 1151 411 1209 487 1276C562 1343 616 1408 647 1472H763Z" fill="#000" transform="translate(10.46,0) scale(0.00918,-0.00918)"/></g>
<text transform="translate(605.81,1173.00) scale(0.7535,1)" font-family="Liberation Sans, sans-serif" font-size="18.8" fill="#000">µ</text>
<text transform="translate(613.92,1173.00) scale(1.2766,1)" font-family="Liberation Sans, sans-serif" font-size="18.8" fill="#000">m</text>
<text transform="translate(542.08,1199.30) scale(0.9574,1)" font-family="Liberation Sans, sans-serif" font-size="18.8" font-style="italic" fill="#000">X</text>
<text transform="translate(554.56,1199.30) scale(1.0000,1)" font-family="Liberation Sans, sans-serif" font-size="18.8" fill="#000">=</text>
<g transform="translate(572.75,1199.30)"><path d="M763 0H583V1147C540 1106 483 1065 412 1023C341 981 278 950 223 930V1104C324 1151 411 1209 487 1276C562 1343 616 1408 647 1472H763Z" fill="#000" transform="translate(0.00,0) scale(0.00918,-0.00918)"/><path d="M763 0H583V1147C540 1106 483 1065 412 1023C341 981 278 950 223 930V1104C324 1151 411 1209 487 1276C562 1343 616 1408 647 1472H763Z" fill="#000" transform="translate(10.46,0) scale(0.00918,-0.00918)"/></g>
<text transform="translate(600.01,1199.30) scale(0.7535,1)" font-family="Liberation Sans, sans-serif" font-size="18.8" fill="#000">µ</text>
<text transform="translate(608.12,1199.30) scale(1.2766,1)" font-family="Liberation Sans, sans-serif" font-size="18.8" fill="#000">m</text>
<path d="M110.8 1151.2V1576.0H637.6M110.8 1151.2H629" fill="none" stroke="#000" stroke-width="2"/>
<path d="M629 1151.2H637.6V1576.0" fill="none" stroke="#888" stroke-width="1.5"/>
<path d="M102.8 1162.7H110.8M106.8 1197.1H110.8M102.8 1231.5H110.8M106.8 1265.8H110.8M102.8 1300.2H110.8M106.8 1334.6H110.8M102.8 1369.0H110.8M106.8 1403.3H110.8M102.8 1437.7H110.8M106.8 1472.1H110.8M102.8 1506.5H110.8M106.8 1540.8H110.8M102.8 1575.2H110.8M125.2 1576.0V1580.0M196.2 1576.0V1584.0M267.2 1576.0V1580.0M338.2 1576.0V1584.0M409.1 1576.0V1580.0M480.1 1576.0V1584.0M551.1 1576.0V1580.0M622.1 1576.0V1584.0" stroke="#000" stroke-width="2" fill="none"/>
<path d="M633.1 1212.5H637.6M629.1 1274.3H637.6M633.1 1335.8H637.6M629.1 1397.3H637.6M633.1 1459.8H637.6M629.1 1521.2H637.6" stroke="#888" stroke-width="1.5" fill="none"/>
<g transform="translate(64.54,1171.70)"><text x="0.00" y="0" font-family="Liberation Sans, sans-serif" font-size="29.0" fill="#000" style="font-kerning:none">60</text></g>
<g transform="translate(64.54,1240.45)"><text x="0.00" y="0" font-family="Liberation Sans, sans-serif" font-size="29.0" fill="#000" style="font-kerning:none">30</text></g>
<g transform="translate(80.67,1309.20)"><text x="0.00" y="0" font-family="Liberation Sans, sans-serif" font-size="29.0" fill="#000" style="font-kerning:none">0</text></g>
<g transform="translate(54.89,1377.95)"><text x="0.00" y="0" font-family="Liberation Sans, sans-serif" font-size="29.0" fill="#000" style="font-kerning:none">-30</text></g>
<g transform="translate(54.89,1446.70)"><text x="0.00" y="0" font-family="Liberation Sans, sans-serif" font-size="29.0" fill="#000" style="font-kerning:none">-60</text></g>
<g transform="translate(54.89,1515.45)"><text x="0.00" y="0" font-family="Liberation Sans, sans-serif" font-size="29.0" fill="#000" style="font-kerning:none">-90</text></g>
<g transform="translate(38.76,1584.20)"><text x="0.00" y="0" font-family="Liberation Sans, sans-serif" font-size="29.0" fill="#000" style="font-kerning:none">-</text><path d="M763 0H583V1147C540 1106 483 1065 412 1023C341 981 278 950 223 930V1104C324 1151 411 1209 487 1276C562 1343 616 1408 647 1472H763Z" fill="#000" transform="translate(9.66,0) scale(0.01416,-0.01416)"/><text x="25.79" y="0" font-family="Liberation Sans, sans-serif" font-size="29.0" fill="#000" style="font-kerning:none">20</text></g>
<g transform="translate(172.01,1611.00)"><text x="0.00" y="0" font-family="Liberation Sans, sans-serif" font-size="29.0" fill="#000" style="font-kerning:none">800</text></g>
<g transform="translate(305.90,1611.00)"><path d="M763 0H583V1147C540 1106 483 1065 412 1023C341 981 278 950 223 930V1104C324 1151 411 1209 487 1276C562 1343 616 1408 647 1472H763Z" fill="#000" transform="translate(0.00,0) scale(0.01416,-0.01416)"/><text x="16.13" y="0" font-family="Liberation Sans, sans-serif" font-size="29.0" fill="#000" style="font-kerning:none">000</text></g>
<g transform="translate(447.86,1611.00)"><path d="M763 0H583V1147C540 1106 483 1065 412 1023C341 981 278 950 223 930V1104C324 1151 411 1209 487 1276C562 1343 616 1408 647 1472H763Z" fill="#000" transform="translate(0.00,0) scale(0.01416,-0.01416)"/><text x="16.13" y="0" font-family="Liberation Sans, sans-serif" font-size="29.0" fill="#000" style="font-kerning:none">200</text></g>
<g transform="translate(589.82,1611.00)"><path d="M763 0H583V1147C540 1106 483 1065 412 1023C341 981 278 950 223 930V1104C324 1151 411 1209 487 1276C562 1343 616 1408 647 1472H763Z" fill="#000" transform="translate(0.00,0) scale(0.01416,-0.01416)"/><text x="16.13" y="0" font-family="Liberation Sans, sans-serif" font-size="29.0" fill="#000" style="font-kerning:none">400</text></g>
<text transform="translate(260.70,1658.00) scale(0.9826,1)" font-family="Liberation Sans, sans-serif" font-size="30.6" fill="#000">Wavelength (nm)</text>
<text transform="translate(27.8,1405.6) rotate(-90) scale(0.963,1)" font-family="Liberation Sans, sans-serif" font-size="31"><tspan font-style="italic">C</tspan> (pA)</text>
<text transform="translate(676.60,1505.40) rotate(-90) scale(0.9539,1)" font-family="Liberation Sans, sans-serif" font-size="29.5" fill="#8a8a8a">Absorbance (arb.units)</text></svg>
</body></html>
